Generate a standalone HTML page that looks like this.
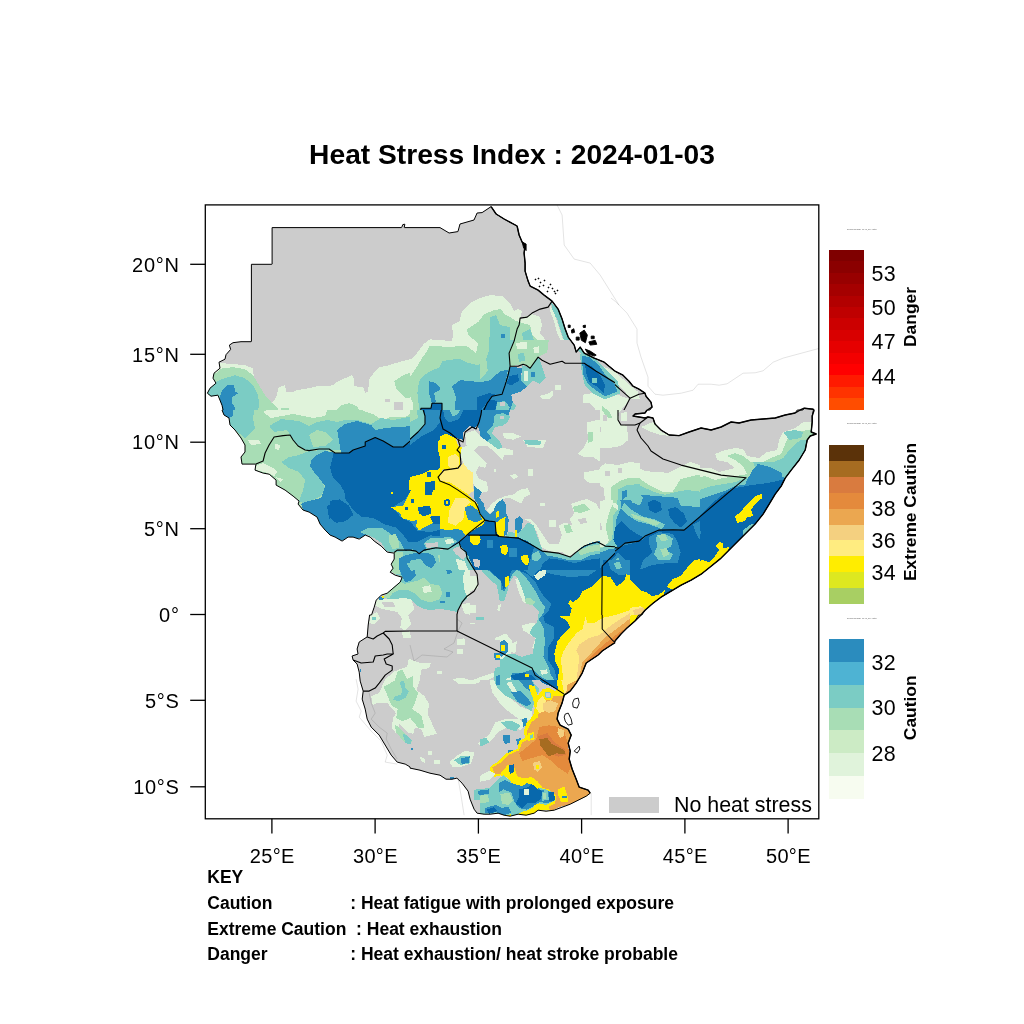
<!DOCTYPE html>
<html><head><meta charset="utf-8"><title>Heat Stress Index : 2024-01-03</title>
<style>html,body{margin:0;padding:0;background:#fff}svg{display:block}</style></head>
<body>
<svg width="1024" height="1024" viewBox="0 0 1024 1024" font-family='"Liberation Sans", sans-serif'>
<rect width="1024" height="1024" fill="#fff"/>
<defs><clipPath id="frame"><rect x="205" y="205" width="614" height="613"/></clipPath></defs>
<g clip-path="url(#frame)">
<defs><clipPath id="land"><path d="M207.4,393.2 L211.0,396.2 L217.8,395.2 L218.0,395.3 L222.0,405.2 L223.0,409.7 L222.8,410.0 L222.0,410.0 L224.0,415.0 L229.0,418.0 L230.0,425.0 L235.0,430.0 L241.0,438.0 L245.0,445.0 L245.0,452.0 L241.0,457.0 L242.0,464.1 L255.8,464.1 L255.9,464.4 L255.0,470.1 L263.1,473.1 L269.2,474.2 L276.1,480.1 L276.1,485.1 L285.1,490.1 L293.1,496.1 L299.0,501.0 L299.0,501.3 L298.1,504.1 L303.1,510.1 L309.1,512.1 L317.1,517.1 L320.1,524.1 L325.1,530.1 L330.1,535.1 L335.1,537.1 L342.1,541.1 L348.1,537.1 L353.1,537.1 L359.2,539.1 L365.1,535.2 L365.3,535.1 L370.2,537.1 L374.2,541.1 L381.2,546.1 L387.2,552.1 L393.9,553.1 L394.2,553.2 L394.2,559.1 L391.2,564.2 L393.1,568.2 L390.2,572.2 L395.2,575.2 L402.0,577.2 L402.1,577.5 L400.2,582.1 L387.2,593.2 L381.2,595.2 L376.2,600.2 L374.2,607.2 L371.6,614.8 L371.4,615.0 L369.6,615.0 L368.2,625.0 L367.2,636.9 L359.2,642.0 L357.1,649.0 L358.0,653.7 L358.0,654.0 L352.1,656.0 L353.1,660.0 L357.1,664.0 L359.2,672.1 L360.2,681.1 L363.2,691.1 L362.2,699.1 L365.2,709.1 L367.2,719.1 L371.2,727.1 L379.2,735.1 L391.2,755.1 L397.2,762.1 L405.2,764.1 L409.9,766.8 L410.0,767.0 L410.0,768.1 L420.0,770.2 L430.0,773.2 L440.0,775.2 L446.0,779.2 L452.0,779.2 L456.8,778.2 L457.1,778.3 L462.1,783.2 L468.1,791.2 L470.1,799.2 L474.1,809.2 L477.1,813.2 L484.1,814.2 L490.1,814.2 L498.1,813.2 L504.1,815.2 L510.1,816.2 L518.1,814.2 L526.1,815.2 L534.1,813.2 L538.1,810.2 L546.1,811.2 L554.1,810.2 L570.2,804.2 L586.2,796.2 L590.2,793.2 L588.2,790.2 L579.3,787.2 L579.2,787.1 L576.2,779.2 L572.2,769.2 L569.2,759.1 L570.2,751.1 L568.2,743.1 L571.2,735.1 L568.2,729.1 L560.1,725.1 L557.1,719.1 L558.1,713.1 L562.1,703.1 L564.2,695.1 L570.2,691.1 L576.2,683.1 L582.2,673.1 L586.2,663.0 L598.2,655.0 L602.2,651.0 L615.0,642.6 L615.1,640.9 L621.0,634.0 L627.0,628.0 L635.0,621.0 L638.6,615.1 L641.7,615.0 L645.0,610.2 L653.0,603.2 L661.0,597.2 L681.1,585.2 L691.1,580.2 L701.1,574.2 L721.1,558.1 L755.1,524.1 L763.1,514.1 L775.2,494.1 L781.2,486.1 L785.2,478.1 L791.2,470.1 L799.2,460.0 L805.2,450.0 L807.2,440.0 L810.2,436.0 L816.2,434.0 L811.4,432.1 L811.2,431.8 L812.2,422.0 L812.2,416.0 L813.4,410.2 L813.5,410.0 L813.2,409.2 L804.2,408.2 L802.9,410.0 L797.3,410.0 L795.1,413.0 L785.2,415.0 L775.2,418.0 L751.1,420.0 L739.1,423.0 L731.1,422.0 L721.1,427.0 L711.2,430.0 L701.1,428.0 L689.1,432.0 L679.1,435.6 L669.1,435.0 L661.0,430.0 L655.0,424.0 L653.0,418.0 L648.0,417.0 L645.0,418.0 L633.5,416.1 L633.3,415.8 L633.4,415.6 L635.0,414.0 L645.0,413.0 L647.0,410.1 L649.9,410.0 L652.0,407.2 L651.0,402.2 L646.0,396.2 L645.0,393.2 L639.0,389.2 L633.0,386.2 L629.0,381.2 L623.0,375.2 L615.1,371.3 L615.0,371.0 L604.2,362.2 L594.2,358.1 L584.2,353.1 L580.2,347.1 L576.5,351.7 L576.3,351.8 L576.1,351.6 L574.2,345.1 L568.2,337.1 L565.2,329.1 L562.1,319.1 L558.1,309.1 L552.1,301.1 L544.1,295.1 L538.1,290.1 L530.1,286.0 L528.1,281.1 L525.1,271.1 L525.1,263.1 L524.1,253.0 L525.1,245.0 L522.1,242.0 L519.1,235.0 L517.1,226.0 L504.1,219.0 L496.1,214.0 L491.1,206.6 L482.1,212.6 L477.1,213.0 L474.0,220.0 L460.0,224.0 L458.0,231.4 L457.9,231.6 L449.1,233.0 L440.0,227.6 L404.5,227.6 L404.3,227.5 L404.3,227.3 L404.8,224.2 L402.8,224.6 L401.7,227.4 L401.4,227.6 L272.1,227.6 L272.1,264.1 L271.8,264.3 L251.4,264.3 L251.4,341.5 L251.1,341.7 L241.0,341.7 L233.0,342.7 L229.4,345.1 L230.6,349.3 L230.5,349.6 L226.0,354.7 L225.0,359.2 L219.0,362.2 L220.0,368.2 L214.0,373.2 L213.0,378.2 L215.9,383.0 L215.9,383.3 L210.0,388.2Z"/></clipPath>
<clipPath id="t0"><rect x="205" y="205" width="205" height="205"/></clipPath>
<clipPath id="t1"><rect x="410" y="205" width="205" height="205"/></clipPath>
<clipPath id="t2"><rect x="615" y="205" width="205" height="205"/></clipPath>
<clipPath id="t3"><rect x="205" y="410" width="205" height="205"/></clipPath>
<clipPath id="t4"><rect x="410" y="410" width="205" height="205"/></clipPath>
<clipPath id="t5"><rect x="615" y="410" width="205" height="205"/></clipPath>
<clipPath id="t6"><rect x="205" y="615" width="205" height="205"/></clipPath>
<clipPath id="t7"><rect x="410" y="615" width="205" height="205"/></clipPath>
<clipPath id="t8"><rect x="615" y="615" width="205" height="205"/></clipPath>
<clipPath id="t9"><rect x="330" y="490" width="160" height="160"/></clipPath>
<clipPath id="t10"><rect x="540" y="440" width="160" height="160"/></clipPath>
<clipPath id="t11"><rect x="480" y="340" width="160" height="160"/></clipPath>
<clipPath id="t12"><rect x="470" y="560" width="160" height="160"/></clipPath>
<clipPath id="t13"><rect x="340" y="640" width="160" height="160"/></clipPath>
<clipPath id="t14"><rect x="480" y="680" width="160" height="160"/></clipPath>
<clipPath id="t15"><rect x="440" y="410" width="160" height="160"/></clipPath>
</defs>
<g clip-path="url(#land)" shape-rendering="crispEdges">
<rect x="200" y="200" width="630" height="630" fill="#cccccc"/>
<g clip-path="url(#t0)">
<polygon points="217,362.8 235,364.2 245,365.2 253,368.2 254,379.2 255,389.2 259.1,395.2 265.1,403.2 269.1,405.2 274.1,400.2 277.1,395.2 278.1,388.2 282.1,386.2 285.1,385.2 286.1,392.2 293.1,392.2 296.1,390.2 309.1,388.2 317.1,386.2 325.1,386.2 333.1,385.2 338.1,381.2 345.1,378.2 352.1,375.2 354.1,379.2 354.1,386.2 363.2,387.2 365.2,393.2 368.2,391.2 369.2,379.2 375.2,371.2 379.2,367.2 389.2,365.2 395.2,363.2 414,358.1 414,414 201,414 201,362.8" fill="#e0f3db"/>
<polygon points="394.2,402.2 403.2,402.2 403.2,414 394.2,414" fill="#cccccc"/>
<polygon points="385.2,399.2 390.2,399.2 390.2,402.2 385.2,402.2" fill="#cccccc"/>
<polygon points="201,375.2 216,373.2 222,368.2 233,367.2 245,369.2 253,375.2 259.1,385.2 265.1,395.2 271.1,402.2 277.1,407.2 281.1,414 201,414" fill="#a8ddb5"/>
<polygon points="333.1,414 341.1,405.2 349.1,403.2 357.1,406.2 361.2,414" fill="#a8ddb5"/>
<polygon points="281.1,408.2 289.1,408.2 289.1,414 281.1,414" fill="#a8ddb5"/>
<polygon points="394.2,381.2 403.2,375.2 414,371.2 414,398.2 405.2,398.2 400.2,393.2 396.2,389.2" fill="#a8ddb5"/>
<polygon points="201,386.2 211,386.2 217,381.2 225,378.2 235,375.2 245,378.2 253,385.2 258.1,395.2 259.1,405.2 257.1,414 201,414" fill="#7bccc4"/>
<polygon points="222,390.2 227,385.2 234,385.2 235,391.2 238,393.2 232,397.2 232,403.2 235,407.2 235,414 220,414 220,397.2" fill="#2b8cbe"/>
</g>
<g clip-path="url(#t1)">
<polygon points="406,359.6 410,359.6 414.4,356.5 423.8,343.9 430,339.3 452,341.1 453,335.1 452,325.1 460,321.1 461,313.1 470.1,303.1 480.1,298.1 490.1,295.1 502.1,296.1 510.1,303.1 514.1,311.1 518.1,309.1 522.1,311.1 520.1,319.1 532.1,314.1 540.1,317.1 542.1,325.1 540.1,333.1 548.1,343.1 548.1,355.1 538.1,357.1 530.1,368.2 510.1,366.2 508.1,375.2 505.1,385.2 502.1,394.2 492.1,396.2 487.1,403.2 482.1,414 406,414" fill="#e0f3db"/>
<polygon points="406,376.8 410,376.8 414.4,370.6 422.2,357.9 426.8,351.7 430,345.5 448.6,347.1 465.9,345.5 468.1,347.1 476.1,353.1 478.1,343.1 468.1,335.1 467.1,329.1 478.1,322.1 484.1,314.1 494.1,310.1 501.1,309.1 504.1,314.1 510.1,317.1 516.1,321.1 530.1,325.1 532.1,335.1 542.1,345.1 542.1,353.1 530.1,363.2 510.1,366.2 508.1,375.2 502.1,394.2 482.1,414 406,414" fill="#a8ddb5"/>
<polygon points="522.1,317.1 530.1,315.1 534.1,321.1 530.1,325.1 522.1,323.1" fill="#e0f3db"/>
<polygon points="514.1,343.1 522.1,341.1 526.1,349.1 518.1,351.1" fill="#e0f3db"/>
<polygon points="406,395.6 410,395.6 412.8,403.2 412.8,414 406,414" fill="#e0f3db"/>
<polygon points="417.4,414 419,408 417.4,392.4 419,381.4 423.8,375.2 431.6,370.6 439.4,367.4 442.4,361.2 451.8,359.6 459.6,358.8 467.5,362.8 478.1,365.2 486.1,357.1 488.1,345.1 490.1,333.1 490.1,317.1 496.1,315.1 500.1,325.1 510.1,327.1 510.1,341.1 506.1,353.1 508.1,365.2 510.1,366.2 508.1,375.2 502.1,394.2 482.1,414 417.4,414" fill="#7bccc4"/>
<polygon points="522.1,333.1 530.1,329.1 534.1,341.1 530.1,349.1 524.1,345.1" fill="#7bccc4"/>
<polygon points="514.1,353.1 522.1,351.1 524.1,361.2 518.1,365.2 512.1,363.2" fill="#7bccc4"/>
<polygon points="429,381.2 436,383.2 441,389.2 434,393.2 436,402.2 432,403.2 429,393.2" fill="#2b8cbe"/>
<polygon points="452,386.2 460,380.2 472.1,381.2 484.1,383.2 500.1,375.2 504.1,371.2 508.1,375.2 505.1,385.2 502.1,394.2 492.1,396.2 487.1,403.2 482.1,414 454,414 456,397.2" fill="#2b8cbe"/>
<polygon points="501.1,334.1 505.1,334.1 505.1,338.1 501.1,338.1" fill="#2b8cbe"/>
<polygon points="477.1,397.2 486.1,394.2 489.1,400.2 486.1,405.2 482.1,414 477.1,414" fill="#0868ac"/>
<polygon points="420,414 421,408.2 431,408.2 432,403.2 442,403.2 442,414" fill="#0868ac"/>
<polygon points="510.1,366.2 522.1,365.2 530.1,371.2 538.1,377.2 534.1,385.2 522.1,391.2 518.1,401.2 514.1,414 482.1,414 487.1,403.2 492.1,396.2 502.1,394.2 505.1,385.2 508.1,375.2" fill="#7bccc4"/>
<polygon points="522.1,365.2 530.1,368.2 538.1,359.2 542.1,371.2 546.1,379.2 538.1,385.2 530.1,379.2" fill="#e0f3db"/>
<polygon points="511.1,371.2 518.1,374.2 521.1,385.2 516.1,393.2 508.1,397.2 504.1,403.2 498.1,405.2 490.1,414 482.1,414 487.1,403.2 492.1,396.2 502.1,394.2 505.1,385.2 508.1,375.2" fill="#2b8cbe"/>
<polygon points="489.1,405.2 496.1,402.2 500.1,407.2 496.1,414 484.1,414" fill="#0868ac"/>
<polygon points="499.1,401.2 506.1,400.2 507.1,407.2 500.1,408.2" fill="#e0f3db"/>
<polygon points="530.1,372.2 535.1,372.2 535.1,377.2 530.1,377.2" fill="#2b8cbe"/>
<polygon points="538.1,393.2 550.1,393.2 550.1,401.2 538.1,401.2" fill="#e0f3db"/>
<polygon points="554.1,384.2 560.1,384.2 560.1,391.2 554.1,391.2" fill="#e0f3db"/>
<polygon points="551.1,303.1 558.1,309.1 562.1,319.1 565.2,329.1 568.2,337.1 576.2,347.1 570.2,346.1 564.2,341.1 560.1,329.1 557.1,319.1 553.1,313.1" fill="#7bccc4"/>
<polygon points="550.1,305.1 554.1,313.1 558.1,325.1 562.1,337.1 566.2,343.1 562.1,343.1 557.1,333.1 554.1,321.1 550.1,311.1" fill="#e0f3db"/>
<polygon points="580.2,357.1 619,375.2 619,414 586.2,414 584.2,397.2 590.2,391.2 584.2,381.2 581.2,369.2" fill="#e0f3db"/>
<polygon points="584.2,393.2 619,393.2 619,414 590.2,414" fill="#7bccc4"/>
<polygon points="582.2,357.1 590.2,357.1 602.2,365.2 619,377.2 619,397.2 602.2,395.2 592.2,387.2 586.2,377.2 583.2,365.2" fill="#2b8cbe"/>
<polygon points="585.2,363.2 594.2,365.2 602.2,375.2 608.2,385.2 602.2,393.2 594.2,385.2 587.2,375.2" fill="#0868ac"/>
<polygon points="590.2,377.2 595.2,377.2 595.2,383.2 590.2,383.2" fill="#7bccc4"/>
<polygon points="600.2,401.2 619,397.2 619,414 602.2,414" fill="#cccccc"/>
</g>
<g clip-path="url(#t2)">
<polygon points="611,371.2 623,375.2 629,381.2 633,386.2 639,393.2 630,398.2 622,414 611,414" fill="#e0f3db"/>
<polygon points="611,373.2 621,376.2 627,383.2 623,385.2 619,393.2 611,397.2" fill="#7bccc4"/>
<polygon points="611,390.2 618,390.2 618,394.2 611,394.2" fill="#2b8cbe"/>
</g>
<g clip-path="url(#t3)">
<polygon points="201,406 414,406 414,598.2 397.2,596.2 381.2,596.2 345.1,550.1 205,470.1" fill="#a8ddb5"/>
<polygon points="263.1,412 275.1,406 329.1,406 325.1,416 313.1,418 293.1,414 271.1,418" fill="#e0f3db"/>
<polygon points="361.2,406 361.2,410 373.6,414.4 383,420.6 389.2,417.4 404.8,417.4 414,411.2 414,406" fill="#e0f3db"/>
<polygon points="248,440 259.1,440 261.1,444 251,445" fill="#e0f3db"/>
<polygon points="255,466.1 263.1,463.1 273.1,468.1 277.1,472.1 274.1,476.1 265.1,472.1 256,470.1" fill="#e0f3db"/>
<polygon points="275.1,444 280.1,445 279.1,450 275.1,449" fill="#e0f3db"/>
<polygon points="275.1,477.1 283.1,479.1 281.1,482.1" fill="#e0f3db"/>
<polygon points="222,406 255,406 253,418 255,428 249,434 245,438 235,430 230,425 229,418 224,415" fill="#7bccc4"/>
<polygon points="269.1,426 281.1,419 289.1,420 299.1,421 309.1,426 317.1,422 327.1,420 337.1,422 345.1,420 357.1,420 371.2,424 381.2,418 393.2,420 414,416 414,450 305.1,450 298.1,446 293.1,440 290.1,435 287.1,430 274.1,432" fill="#7bccc4"/>
<polygon points="309.1,435 317.1,430 325.1,432 333.1,440 325.1,446 313.1,447" fill="#a8ddb5"/>
<polygon points="281.1,462.1 289.1,457 299.1,455 309.1,451 325.1,450 333.1,453 317.1,456 311.1,462.1 313.1,470.1 321.1,480.1 325.1,488.1 321.1,496.1 313.1,500.1 305.1,504.1 299.1,501.1 303.1,490.1 305.1,480.1 299.1,472.1 289.1,468.1" fill="#7bccc4"/>
<polygon points="222,406 233,406 233,416 229,418 224,415" fill="#2b8cbe"/>
<polygon points="337.1,430 345.1,424 357.1,421 371.2,425 375.2,430 385.2,428 397.2,427 414,426 414,440 403.2,447 393.2,447 383.2,441 375.2,437.6 365.2,442 365.2,446 353.1,450 349.1,453 341.1,453 339.1,442" fill="#2b8cbe"/>
<polygon points="311.1,460 317.1,455 325.1,451 335.1,453 414,450 414,548.1 405.2,542.1 401.2,536.1 393.2,532.1 385.2,528.1 375.2,526.1 365.2,528.1 360.2,532.1 359.2,539.1 353.1,537.1 348.1,537.1 342.1,541.1 335.1,537.1 330.1,535.1 325.1,530.1 320.1,524.1 317.1,517.1 309.1,512.1 303.1,510.1 301.1,504.1 305.1,502.1 313.1,500.1 321.1,498.1 323.1,492.1 325.1,486.1 319.1,478.1 314.1,472.1 310.1,466.1" fill="#2b8cbe"/>
<polygon points="333.1,453 349.1,453 353.1,450 365.2,446 365.2,442 375.2,437.6 383.2,441 393.2,447 403.2,447 414,440 414,548.1 405.2,542.1 403.2,534.1 393.2,526.1 385.2,521.1 375.2,518.1 365.2,512.1 355.1,508.1 353.1,502.1 345.1,494.1 341.1,486.1 333.1,478.1 330.1,468.1 333.1,456" fill="#0868ac"/>
<polygon points="327.1,506.1 333.1,503.1 341.1,508.1 349.1,514.1 355.1,519.1 353.1,524.1 343.1,522.1 335.1,525.1 329.1,518.1" fill="#0868ac"/>
<polygon points="390.8,491.7 392.8,491.7 392.8,493.7 390.8,493.7" fill="#ffed00"/>
<polygon points="391.2,508.1 397.2,507.1 403.2,504.1 405.2,498.1 409.2,494.1 409.2,480.1 414,480.1 414,522.1 403.2,521.1 400.2,516.1 395.2,512.1" fill="#ffed00"/>
<polygon points="402.2,506.1 405.2,506.1 405.2,509.1 402.2,509.1" fill="#0868ac"/>
<polygon points="360.2,532.1 365.2,528.1 375.2,526.1 385.2,528.1 393.2,532.1 401.2,536.1 405.2,542.1 414,548.1 414,550.1 397.2,550.1 394.2,552.5 387.2,552.1 381.2,546.1 374.2,541.1 370.2,537.1 365.2,535.1 359.2,539.1" fill="#7bccc4"/>
<polygon points="373.2,530.1 385.2,530.1 393.2,538.1 391.2,548.1 381.2,544.1" fill="#a8ddb5"/>
<polygon points="394.2,553.1 414,550.1 414,598.2 397.2,596.2 385.2,595.2 393.2,588.2 400.2,582.2 402.2,577.2 395.2,575.2 390.2,572.2 393.2,568.2 391.2,564.2 394.2,559.1" fill="#a8ddb5"/>
<polygon points="397.2,558.1 414,554.1 414,582.2 403.2,580.2 398.2,570.2" fill="#7bccc4"/>
<polygon points="402.2,562.1 414,559.1 414,577.2 405.2,575.2" fill="#2b8cbe"/>
<polygon points="406.2,565.2 411.2,565.2 411.2,570.2 406.2,570.2" fill="#7bccc4"/>
<polygon points="391.2,590.2 414,586.2 414,600.2 395.2,600.2 385.2,596.2" fill="#e0f3db"/>
<polygon points="375.2,602.2 385.2,597.2 397.2,600.2 414,599.2 414,619 365.2,619" fill="#cccccc"/>
<polygon points="381.2,608.2 389.2,606.2 397.2,610.2 385.2,612.2" fill="#e0f3db"/>
<polygon points="380.8,596.2 383.6,596.2 383.6,599.2 380.8,599.2" fill="#2b8cbe"/>
</g>
<g clip-path="url(#t4)">
<polygon points="590.2,422 598.2,406 619,406 619,456 606.2,462.1 602.2,470.1 619,466.1 619,494.1 602.2,498.1 590.2,504.1 580.2,504.1 574.2,510.1 576.2,518.1 566.2,524.1 562.1,530.1 570.2,538.1 580.2,540.1 590.2,542.1 597.2,541.7 584.2,546.1 576.2,552.1 570.2,557.1 558.1,553.1 546.1,548.1 540.1,538.1 538.1,526.1 550.1,522.1 558.1,528.1 568.2,522.1 572.2,512.1 570.2,506.1 582.2,500.1 590.2,498.1 600.2,490.1 596.2,482.1 586.2,478.1 584.2,472.1 594.2,470.1 602.2,462.1 600.2,454 590.2,456 580.2,460 578.2,456 586.2,448 590.2,436" fill="#e0f3db"/>
<polygon points="596.2,428 600.2,428 600.2,432 596.2,432" fill="#cccccc"/>
<polygon points="602.2,434 606.2,434 606.2,438 602.2,438" fill="#cccccc"/>
<polygon points="595.2,440 599.2,440 599.2,444 595.2,444" fill="#cccccc"/>
<polygon points="602.2,472.1 606.2,472.1 606.2,476.1 602.2,476.1" fill="#cccccc"/>
<polygon points="608.2,480.1 612.2,480.1 612.2,484.1 608.2,484.1" fill="#cccccc"/>
<polygon points="582.2,450 590.2,448 588.2,456 582.2,458" fill="#a8ddb5"/>
<polygon points="526.1,440 534.1,439 542.1,441 542.1,445 530.1,445" fill="#e0f3db"/>
<polygon points="527.1,469.1 532.1,469.1 532.1,475.1 527.1,475.1" fill="#e0f3db"/>
<polygon points="511.1,476.1 516.1,475.1 518.1,479.1 512.1,480.1" fill="#e0f3db"/>
<polygon points="550.1,520.1 555.1,520.1 555.1,526.1 550.1,526.1" fill="#e0f3db"/>
<polygon points="522.1,490.1 530.1,488.1 532.1,496.1 524.1,498.1" fill="#e0f3db"/>
<polygon points="508.1,496.1 518.1,494.1 519.1,502.1 510.1,504.1" fill="#e0f3db"/>
<polygon points="598.2,514.1 606.2,508.1 619,506.1 619,550.1 605.2,546.1 597.2,541.7 590.2,538.1 586.2,530.1 590.2,522.1" fill="#7bccc4"/>
<polygon points="590.2,522.1 598.2,518.1 602.2,526.1 598.2,534.1 592.2,530.1" fill="#e0f3db"/>
<polygon points="610.2,530.1 619,526.1 619,547.1 608.2,544.1" fill="#2b8cbe"/>
<polygon points="406,406 482.1,406 479.1,422 472.1,427 465.1,432 463.1,442 460,453 461,464.1 472.1,470.1 474.1,494.1 479.1,510.1 485.1,520.1 470.1,532.1 459,542.1 448,549.1 436,547.7 424,550.1 419,553.7 406,550.1" fill="#0868ac"/>
<polygon points="406,406 422,406 425,416 425,424 418,432 406,441" fill="#7bccc4"/>
<polygon points="406,406 416,406 418,418 410,422 406,422" fill="#a8ddb5"/>
<polygon points="425,406 442,406 440,422 434,430 422,436 406,448 406,441 418,432 425,424" fill="#2b8cbe"/>
<polygon points="442,406 462.1,406 458,418 450,424 443,422" fill="#2b8cbe"/>
<polygon points="480.1,406 510.1,406 504.1,416 490.1,420 482.1,429 476.1,429 479.1,422" fill="#2b8cbe"/>
<polygon points="406,530.1 422,528.1 440,530.1 454,532.1 464.1,534.1 459,542.1 448,549.1 436,547.7 424,550.1 419,553.7 406,550.1" fill="#2b8cbe"/>
<polygon points="424,540.1 446,538.1 456,540.1 448,548.1 436,547.1 424,549.1" fill="#7bccc4"/>
<polygon points="426,544.1 436,542.1 438,546.1 428,548.1" fill="#cccccc"/>
<polygon points="438,442 442,436 447,433 453,437 458,440 460,453 461,464.1 467.1,470.1 473.1,474.1 473.1,494.1 476.1,503.1 468.1,504.1 467.1,514.1 464.1,522.1 468.1,528.1 480.1,527.1 480.1,538.1 474.1,543.1 470.1,542.1 470.1,532.1 464.1,530.1 456,528.1 442,528.1 440,522.1 432,522.1 430,528.1 422,526.1 418,530.1 415,526.1 406,522.1 406,478.1 422,474.1 430,470.1 437,470.1 440,468.1 444,463.1 440,458 438,450" fill="#ffed00"/>
<polygon points="425,482.1 435,481.1 435,490.1 430,496.1 425,494.1" fill="#0868ac"/>
<polygon points="418,508.1 430,506.1 431,514.1 422,518.1 418,514.1" fill="#0868ac"/>
<polygon points="430,516.1 440,514.1 442,522.1 432,522.1" fill="#0868ac"/>
<polygon points="444.4,499.7 449,499.1 449,504.5 444.4,504.5" fill="#0868ac"/>
<polygon points="445.8,501.1 447.6,501.1 447.6,503.1 445.8,503.1" fill="#ffed00"/>
<polygon points="442,444 447,443 447,449 442,449" fill="#0868ac"/>
<polygon points="427,472.1 431,472.1 431,477.1 427,477.1" fill="#0868ac"/>
<polygon points="447,455 457,453 459,464.1 450,468.1 446,462.1" fill="#ffec80"/>
<polygon points="461,466.1 470.1,470.1 473.1,476.1 473.1,490.1 468.1,496.1 460,490.1 457,484.1 450,485.1 442,480.1 444,470.1 458,468.1" fill="#ffec80"/>
<polygon points="449,504.1 464.1,498.1 468.1,504.1 467.1,514.1 464.1,522.1 450,522.1 449,514.1" fill="#ffec80"/>
<polygon points="470.1,535.1 480.1,535.1 480.1,543.1 470.1,543.1" fill="#ffed00"/>
<polygon points="464.1,432 490.1,422 510.1,418 514.1,424 504.1,428 494.1,432 498.1,442 506.1,448 514.1,450 512.1,456 502.1,456 494.1,450 486.1,440 474.1,440 468.1,446 470.1,458 476.1,462.1 484.1,464.1 488.1,470.1 480.1,474.1 476.1,482.1 480.1,490.1 486.1,494.1 484.1,500.1 479.1,510.1 474.1,494.1 472.1,470.1 461,464.1 460,453 463.1,442" fill="#e0f3db"/>
<polygon points="476.1,429 490.1,420 504.1,416 510.1,420 498.1,425 490.1,430 488.1,436 496.1,443 500.1,450 494.1,448 486.1,438 476.1,437 470.1,438 466.1,436" fill="#7bccc4"/>
<polygon points="474.1,476.1 480.1,478.1 482.1,490.1 478.1,498.1 474.1,494.1" fill="#2b8cbe"/>
<polygon points="466.1,506.1 476.1,503.1 479.1,510.1 485.1,520.1 478.1,522.1 470.1,518.1" fill="#2b8cbe"/>
<polygon points="489.1,516.1 494.1,508.1 500.1,500.1 506.1,502.1 506.1,514.1 504.1,522.1 496.1,522.1 489.1,521.1" fill="#2b8cbe"/>
<polygon points="498.1,504.1 504.1,504.1 504.1,510.1 499.1,510.1" fill="#0868ac"/>
<polygon points="496.1,512.1 499.1,511.1 499.1,518.1 496.1,518.1" fill="#ffed00"/>
<polygon points="498.1,522.1 502.1,518.1 506.1,517.1 506.1,536.1 499.1,536.5 496.1,530.1" fill="#ffed00"/>
<polygon points="516.1,522.1 520.1,517.1 522.1,522.1 521.1,530.1 517.1,532.1" fill="#2b8cbe"/>
<polygon points="514.5,530.1 516.5,530.1 516.5,536.1 514.5,536.1" fill="#ffed00"/>
<polygon points="506.1,522.1 514.1,522.1 522.1,530.1 530.1,522.1 538.1,526.1 540.1,538.1 546.1,548.1 558.1,553.1 542.1,551.1 530.1,544.1 518.1,538.1 506.1,536.5" fill="#7bccc4"/>
<polygon points="459,542.1 470.1,532.1 485.1,520.1 495.1,521.7 496.1,534.1 499.1,536.5 518.1,538.1 530.1,544.1 542.1,551.1 558.1,553.1 570.2,557.1 576.2,562.1 590.2,568.2 600.2,568.2 619,554.1 619,619 548.1,619 546.1,602.2 538.1,590.2 530.1,580.2 522.1,570.2 514.1,566.2 510.1,576.2 506.1,590.2 502.1,592.2 494.1,584.2 486.1,580.2 480.1,568.2 470.1,558.1 467.1,552.1 461,548.1" fill="#0868ac"/>
<polygon points="518.1,538.1 530.1,544.1 542.1,551.1 558.1,553.1 570.2,557.1 576.2,552.1 584.2,546.1 597.2,541.7 605.2,546.1 619,547.1 619,562.1 602.2,568.2 590.2,570.2 580.2,568.2 574.2,576.2 562.1,576.2 550.1,570.2 540.1,568.2 534.1,580.2 526.1,576.2 530.1,562.1 526.1,550.1" fill="#2b8cbe"/>
<polygon points="550.1,558.1 570.2,559.1 580.2,562.1 574.2,566.2 554.1,564.2" fill="#7bccc4"/>
<polygon points="534.1,574.2 542.1,568.2 548.1,570.2 540.1,578.2 535.1,580.2" fill="#e0f3db"/>
<polygon points="558.1,553.1 570.2,557.1 576.2,552.1 584.2,546.1 597.2,541.7 590.2,550.1 580.2,556.1 570.2,560.1" fill="#a8ddb5"/>
<polygon points="501.1,546.1 507.1,545.1 507.1,550.1 505.1,554.1 501.7,553.1" fill="#ffed00"/>
<polygon points="521.1,556.1 528.1,555.1 529.1,564.2 525.1,565.2 521.1,560.1" fill="#ffed00"/>
<polygon points="504.1,584.2 507.1,576.2 510.1,576.2 509.1,584.2 506.1,588.2" fill="#ffec80"/>
<polygon points="568.2,600.2 576.2,599.2 580.2,592.2 586.2,589.2 594.2,582.2 598.2,580.2 619,580.2 619,619 570.2,619" fill="#ffed00"/>
<polygon points="487.1,540.1 492.1,540.1 492.1,548.1 487.1,548.1" fill="#2b8cbe"/>
<polygon points="510.1,548.1 516.1,548.1 516.1,558.1 510.1,558.1" fill="#2b8cbe"/>
<polygon points="480.1,580.2 490.1,586.2 498.1,590.2 504.1,592.2 510.1,580.2 514.1,570.2 522.1,576.2 530.1,586.2 538.1,596.2 544.1,619 458,619 462.1,602.2 474.1,591.2 478.1,584.2" fill="#cccccc"/>
<polygon points="486.1,580.2 494.1,584.2 502.1,592.2 506.1,590.2 504.1,602.2 498.1,610.2 494.1,598.2 490.1,590.2" fill="#7bccc4"/>
<polygon points="514.1,568.2 522.1,572.2 530.1,582.2 540.1,594.2 548.1,610.2 548.1,619 540.1,619 534.1,602.2 526.1,590.2 518.1,580.2" fill="#7bccc4"/>
<polygon points="522.1,590.2 530.1,596.2 534.1,608.2 528.1,608.2 524.1,600.2" fill="#e0f3db"/>
<polygon points="494.1,600.2 498.1,610.2 496.1,619 492.1,610.2" fill="#e0f3db"/>
<polygon points="406,550.1 419,553.7 424,550.1 436,547.7 448,549.1 459,542.1 461,548.1 466.1,552.1 467.1,558.1 472.1,566.2 477.1,574.2 478.1,584.2 474.1,591.2 467.1,596.2 462.1,602.2 458,610.2 456,619 406,619" fill="#7bccc4"/>
<polygon points="406,554.1 419,555.1 430,556.1 436,562.1 432,568.2 422,570.2 406,568.2" fill="#2b8cbe"/>
<polygon points="446,550.1 459,543.1 464.1,550.1 460,554.1 450,553.1" fill="#2b8cbe"/>
<polygon points="452,550.1 460,546.1 465.1,554.1 467.1,562.1 464.1,566.2 458,558.1" fill="#cccccc"/>
<polygon points="406,574.2 422,572.2 440,576.2 450,582.2 458,590.2 462.1,602.2 458,619 430,619 422,608.2 410,590.2" fill="#a8ddb5"/>
<polygon points="454,566.2 468.1,564.2 474.1,574.2 476.1,584.2 470.1,590.2 462.1,586.2 460,576.2" fill="#e0f3db"/>
<polygon points="422,586.2 436,584.2 440,592.2 428,596.2 420,592.2" fill="#e0f3db"/>
<polygon points="406,600.2 418,598.2 422,606.2 416,619 406,619" fill="#e0f3db"/>
<polygon points="422,619 430,611.2 450,610.2 457,619" fill="#cccccc"/>
<polygon points="446,592.2 449,592.2 449,596.2 446,596.2" fill="#2b8cbe"/>
</g>
<g clip-path="url(#t5)">
<polygon points="611,430 623,434 627,442 623,446 611,444" fill="#e0f3db"/>
<polygon points="619,406 627,414 627,424 621,425 618,420" fill="#e0f3db"/>
<polygon points="620,412 625,415 625,422 621,422" fill="#a8ddb5"/>
<polygon points="641,427 653,422 661,432 671.1,436 661,435 651,432" fill="#e0f3db"/>
<polygon points="611,462.1 623,461 631,464.1 637,468.1 645,470.1 655,468.1 667.1,470.1 673.1,474.1 677.1,468.1 685.1,466.1 691.1,462.1 701.1,468.1 711.1,468.1 719.1,472.1 727.1,470.1 735.1,468.1 727.1,462.1 717.1,460 715.1,454 725.1,450 735.1,448 743.1,449 747.1,456 759.1,458 767.1,452 777.2,450 779.2,440 783.2,432 795.2,428 803.2,422 809.2,422 824,422 824,619 611,619" fill="#e0f3db"/>
<polygon points="611,476.1 627,478.1 637,476.1 643,480.1 655,484.1 667.1,480.1 675.1,486.1 683.1,480.1 695.1,478.1 705.1,476.1 715.1,480.1 723.1,478.1 735.1,476.1 747.1,474.1 743.1,466.1 735.1,460 727.1,456 735.1,453 743.1,456 751.1,462.1 759.1,464.1 771.2,458 781.2,454 785.2,444 789.2,436 799.2,432 807.2,430 824,430 824,619 611,619" fill="#a8ddb5"/>
<polygon points="643,470.1 655,476.1 667.1,486.1 675.1,494.1 671.1,496.1 661,488.1 649,480.1" fill="#e0f3db"/>
<polygon points="611,490.1 623,488.1 631,494.1 641,492.1 651,498.1 667.1,494.1 679.1,498.1 689.1,494.1 699.1,490.1 711.1,486.1 723.1,484.1 735.1,482.1 746.1,478.1 755.1,476.1 763.1,476.1 755.1,468.1 753.1,462.1 763.1,462.1 773.2,462.1 783.2,458 789.2,450 795.2,444 801.2,440 824,440 824,619 611,619" fill="#7bccc4"/>
<polygon points="783.2,432 795.2,430 803.2,432 801.2,438 789.2,440" fill="#7bccc4"/>
<polygon points="627,488.1 635,490.1 637,496.1 629,498.1" fill="#a8ddb5"/>
<polygon points="611,498.1 621,496.1 629,500.1 637,496.1 645,496.1 655,504.1 667.1,498.1 679.1,504.1 691.1,502.1 703.1,498.1 715.1,494.1 727.1,490.1 735.1,486.1 747.1,484.1 759.1,482.1 771.2,480.1 779.2,476.1 773.2,470.1 763.1,466.1 757.1,467.1 761.1,472.1 775.2,472.1 785.2,478.1 824,478.1 824,619 611,619" fill="#2b8cbe"/>
<polygon points="611,506.1 627,510.1 639,518.1 645,526.1 639,528.1 627,520.1 611,514.1" fill="#a8ddb5"/>
<polygon points="615,510.1 627,514.1 637,524.1 627,519.1 615,513.1" fill="#e0f3db"/>
<polygon points="611,518.1 627,524.1 637,530.1 627,530.1 611,526.1" fill="#7bccc4"/>
<polygon points="745.5,482.7 752.5,470.3 757.7,464.1 770.2,466.9 780.6,472.1 786,477.3 782.4,482.7 770.2,487.9 748.9,491.5" fill="#2b8cbe"/>
<polygon points="723.1,494.1 735.1,488.1 751.1,485.1 767.1,483.1 781.2,480.1 824,480.1 824,619 611,619 611,550.1 619,548.1 625,544.1 639,541.1 645,536.1 659,530.1 673.1,529.7 684.1,530.1 695.1,522.1 701.1,514.1 711.1,504.1" fill="#0868ac"/>
<polygon points="647,502.1 655,500.1 661,508.1 671.1,514.1 683.1,522.1 684.1,530.1 673.1,529.7 663,522.1 655,514.1 649,510.1" fill="#0868ac"/>
<polygon points="669.1,508.1 681.1,506.1 691.1,514.1 695.1,522.1 684.1,530.1 683.1,520.1 675.1,514.1" fill="#0868ac"/>
<polygon points="611,522.1 621,528.1 627,538.1 625,544.1 611,550.1" fill="#0868ac"/>
<polygon points="645,538.1 655,532.1 671.1,530.1 679.1,538.1 681.1,550.1 675.1,562.1 661,564.2 649,568.2 641,562.1 643,550.1" fill="#2b8cbe"/>
<polygon points="651,540.1 659,534.1 669.1,534.1 675.1,542.1 673.1,554.1 665,560.1 655,558.1 653,550.1" fill="#7bccc4"/>
<polygon points="657,538.1 665,536.1 669.1,542.1 663,546.1 658,544.1" fill="#a8ddb5"/>
<polygon points="660,550.1 667.1,548.1 670.1,554.1 665,558.1 660,556.1" fill="#a8ddb5"/>
<polygon points="611,550.1 625,554.1 631,568.2 623,572.2 611,574.2" fill="#2b8cbe"/>
<polygon points="611,554.1 621,558.1 625,566.2 621,570.2 611,572.2" fill="#7bccc4"/>
<polygon points="691.1,526.1 699.1,524.1 701.1,534.1 695.1,538.1 692.1,532.1" fill="#2b8cbe"/>
<polygon points="743.1,530.1 751.1,524.1 755.1,524.1 747.1,532.1 743.1,536.1" fill="#7bccc4"/>
<polygon points="807.2,440 805.2,450 799.2,460 791.2,470.1 785.2,478.1 781.2,476.1 789.2,466.1 795.2,456 801.2,446" fill="#7bccc4"/>
<polygon points="735.1,516.1 741.1,512.1 745.1,506.1 751.1,500.1 757.1,495.1 762.1,494.1 762.1,498.1 755.1,504.1 751.1,510.1 753.1,516.1 747.1,517.1 745.1,521.1 737.1,523.1" fill="#ffed00"/>
<polygon points="715.1,546.1 719.1,542.1 723.1,543.1 723.1,548.1 729.1,547.1 727.1,552.1 721.1,558.1 711.1,566.2 701.1,574.2 691.1,580.2 681.1,585.2 671.1,591.2 667.1,587.2 673.1,581.2 683.1,576.2 691.1,568.2 695.1,562.1 703.1,560.1 709.1,562.1 715.1,556.1 719.1,550.1" fill="#ffed00"/>
<polygon points="611,586.2 625,580.2 628,575.2 633,582.2 641,588.2 647,596.2 657,596.2 663,590.2 664,595.2 653,603.2 645,610.2 641,619 611,619" fill="#ffed00"/>
<polygon points="611,610.2 627,608.2 641,606.2 645,610.2 641,619 611,619" fill="#ffec80"/>
<polygon points="633,610.2 643,607.2 645,610.2 641,619 635,619" fill="#f4d080"/>
</g>
<g clip-path="url(#t6)">
<polygon points="381.2,681.1 387.2,677.1 393.2,671.1 414,669.1 414,749.1 405.2,743.1 401.2,735.1 395.2,731.1 391.2,725.1 393.2,719.1 397.2,715.1 395.2,709.1 387.2,705.1 381.2,701.1 375.2,705.1 371.2,701.1 375.2,695.1 381.2,693.1" fill="#e0f3db"/>
<polygon points="383.2,687.1 391.2,683.1 397.2,675.1 414,673.1 414,745.1 405.2,739.1 401.2,733.1 403.2,727.1 397.2,723.1 397.2,715.1 396.2,707.1 389.2,703.1 385.2,695.1" fill="#a8ddb5"/>
<polygon points="393.2,697.1 400.2,695.1 401.2,687.1 405.2,681.1 405.2,689.1 407.2,695.1 401.2,699.1 395.2,701.1" fill="#7bccc4"/>
<polygon points="405.2,735.1 414,737.1 414,745.1 406.2,743.1" fill="#7bccc4"/>
<polygon points="397.2,713.1 414,721.1 414,735.1 405.2,733.1 399.2,723.1" fill="#cccccc"/>
<polygon points="401.2,619 414,617 414,629 403.2,629" fill="#e0f3db"/>
<polygon points="400.2,633 414,633 414,639 403.2,638" fill="#e0f3db"/>
<polygon points="373.2,615 377.2,617 375.2,621 372.2,620" fill="#7bccc4"/>
<polygon points="387.2,641 391.2,645 390.2,651 387.2,649" fill="#e0f3db"/>
<polygon points="359.6,669.1 361.2,669.1 361.2,672.1 359.6,672.1" fill="#2b8cbe"/>
<polygon points="369.2,701.1 373.2,703.1 375.2,711.1 371.2,709.1" fill="#e0f3db"/>
</g>
<g clip-path="url(#t7)">
<polygon points="406,665 418,663 420,675.1 416,685.1 422,695.1 426,709.1 432,723.1 436,733.1 430,735.1 422,727.1 414,719.1 406,723.1" fill="#e0f3db"/>
<polygon points="406,691.1 416,695.1 422,711.1 418,715.1 406,711.1" fill="#a8ddb5"/>
<polygon points="452,681.1 462.1,678.1 482.1,679.1 490.1,673.1 494.1,675.1 486.1,681.1 470.1,684.1 456,685.1" fill="#e0f3db"/>
<polygon points="458,641 464.1,640 464.1,645 458,645" fill="#e0f3db"/>
<polygon points="456,651 462.1,650 462.1,654 456,654" fill="#e0f3db"/>
<polygon points="468.1,621 480.1,617 482.1,621 470.1,625" fill="#e0f3db"/>
<polygon points="420,755.1 424,755.1 424,763.1 420,763.1" fill="#e0f3db"/>
<polygon points="434,759.1 442,759.1 442,765.1 434,765.1" fill="#e0f3db"/>
<polygon points="452,761.1 458,756.1 468.1,753.1 472.1,755.1 470.1,763.1 462.1,767.1 454,766.1" fill="#7bccc4"/>
<polygon points="460,758.1 468.1,756.1 469.1,762.1 461,764.1" fill="#2b8cbe"/>
<polygon points="480.1,743.1 486.1,739.1 490.1,740.1 489.1,745.1 482.1,747.1" fill="#7bccc4"/>
<polygon points="490.1,735.1 498.1,731.1 506.1,727.1 510.1,731.1 502.1,735.1 494.1,739.1" fill="#e0f3db"/>
<polygon points="530.1,611 528.1,623 520.1,627 522.1,635 530.1,643 518.1,649 510.1,655 514.1,665 522.1,669.1 532.1,668.1 550.1,681.1 564.2,694.1 619,643 619,611" fill="#e0f3db"/>
<polygon points="538.1,611 532.1,623 524.1,627 530.1,635 538.1,639 530.1,647 522.1,653 530.1,661 538.1,667.1 550.1,681.1 558.1,691.1 564.2,694.1 619,643 619,611" fill="#7bccc4"/>
<polygon points="540.1,611 538.1,625 542.1,633 548.1,641 546.1,649 550.1,655 550.1,665 558.1,681.1 619,643 619,611" fill="#2b8cbe"/>
<polygon points="546.1,611 548.1,627 552.1,637 553.1,649 556.1,661 559.1,673.1 559.1,683.1 564.2,694.1 619,643 619,611" fill="#0868ac"/>
<polygon points="540.1,671.1 548.1,669.1 550.1,675.1 544.1,677.1" fill="#7bccc4"/>
<polygon points="570.2,611 568.2,625 562.1,635 558.1,645 555.1,655 558.1,665 560.1,675.1 558.1,685.1 564.2,694.1 619,643 619,611" fill="#ffed00"/>
<polygon points="584.2,611 578.2,627 572.2,637 566.2,649 564.2,661 568.2,671.1 566.2,681.1 564.2,689.1 565.2,694.1 619,643 619,611" fill="#ffec80"/>
<polygon points="602.2,629 594.2,633 588.2,641 580.2,647 576.2,655 578.2,663 574.2,673.1 570.2,683.1 567.2,692.1 570.2,691.1 619,643 613.2,641" fill="#f4d080"/>
<polygon points="613.2,641 602.2,645 594.2,653 586.2,663 582.2,673.1 584.2,665 590.2,657 600.2,650 610.2,645 619,643" fill="#eba750"/>
<polygon points="496.1,655 498.1,641 506.1,633 510.1,639 510.1,649 504.1,659 498.1,659" fill="#e0f3db"/>
<polygon points="500.1,643 506.1,640 508.1,647 503.1,652 500.1,650" fill="#2b8cbe"/>
<polygon points="500.1,645 505.1,645 505.1,650 500.1,650" fill="#ffed00"/>
<polygon points="496.1,654 501.1,653 501.1,657 496.1,658" fill="#ffed00"/>
<polygon points="494.1,679.1 500.1,671.1 510.1,673.1 522.1,669.1 532.1,668.1 535.1,675.1 550.1,685.1 558.1,691.1 554.1,695.1 548.1,699.1 538.1,695.1 534.1,703.1 530.1,709.1 522.1,701.1 510.1,699.1 500.1,693.1 496.1,685.1" fill="#7bccc4"/>
<polygon points="510.1,675.1 522.1,671.1 532.1,673.1 538.1,679.1 550.1,685.1 548.1,693.1 538.1,689.1 532.1,695.1 534.1,703.1 526.1,701.1 518.1,695.1 512.1,699.1 514.1,691.1 522.1,687.1 518.1,681.1" fill="#2b8cbe"/>
<polygon points="514.1,675.1 524.1,673.1 530.1,677.1 528.1,683.1 520.1,682.1" fill="#0868ac"/>
<polygon points="525.1,674.1 529.1,674.1 529.1,677.1 525.1,677.1" fill="#ffed00"/>
<polygon points="528.1,685.1 534.1,685.1 538.1,695.1 540.1,703.1 550.1,701.1 558.1,691.1 564.2,694.1 562.1,703.1 558.1,713.1 550.1,709.1 542.1,713.1 534.1,711.1 532.1,701.1 530.1,693.1" fill="#ffed00"/>
<polygon points="541.1,689.1 550.1,687.1 554.1,693.1 552.1,699.1 544.1,699.1" fill="#f4d080"/>
<polygon points="544.1,692.1 549.1,692.1 549.1,697.1 544.1,697.1" fill="#cccccc"/>
<polygon points="502.1,721.1 510.1,719.1 522.1,723.1 526.1,731.1 522.1,735.1 514.1,729.1 506.1,727.1" fill="#7bccc4"/>
<polygon points="504.1,735.1 510.1,733.1 510.1,743.1 504.1,743.1" fill="#2b8cbe"/>
<polygon points="536.1,695.1 550.1,701.1 558.1,691.1 564.2,694.1 590.2,793.2 548.1,813.2 522.1,815.2 518.1,785.2 506.1,781.2 496.1,779.2 489.1,773.2 492.1,765.1 502.1,758.1 508.1,751.1 518.1,749.1 518.1,743.1 522.1,735.1 526.1,725.1 529.1,719.1 532.1,711.1" fill="#ffed00"/>
<polygon points="538.1,697.1 550.1,701.1 558.1,691.1 564.2,694.1 562.1,703.1 558.1,713.1 557.1,719.1 560.1,725.1 568.2,729.1 571.2,735.1 568.2,743.1 570.2,751.1 569.2,759.1 572.2,769.2 576.2,779.2 579.2,787.2 588.2,790.2 590.2,793.2 586.2,796.2 578.2,800.2 570.2,804.2 562.1,807.2 554.1,810.2 548.1,810.2 550.1,803.2 558.1,799.2 566.2,795.2 562.1,789.2 554.1,791.2 546.1,789.2 538.1,783.2 532.1,779.2 524.1,785.2 518.1,783.2 510.1,777.2 508.1,773.2 498.1,777.2 492.1,773.2 494.1,765.1 502.1,759.1 508.1,753.1 518.1,751.1 520.1,743.1 524.1,735.1 528.1,727.1 530.1,719.1 534.1,711.1 538.1,703.1" fill="#eba750"/>
<polygon points="530.1,727.1 542.1,719.1 554.1,715.1 558.1,727.1 568.2,735.1 568.2,755.1 572.2,771.2 566.2,775.2 558.1,767.1 550.1,763.1 540.1,755.1 530.1,751.1 524.1,743.1" fill="#e48a3c"/>
<polygon points="536.1,735.1 550.1,733.1 558.1,743.1 566.2,753.1 562.1,759.1 550.1,757.1 540.1,753.1" fill="#d97b3f"/>
<polygon points="539.1,740.1 548.1,738.1 554.1,745.1 562.1,752.1 558.1,755.1 550.1,754.1 543.1,751.1 539.1,745.1" fill="#a66c21"/>
<polygon points="534.1,763.1 540.1,761.1 542.1,767.1 538.1,771.2 533.1,769.2" fill="#f4d080"/>
<polygon points="535.7,764.7 539.7,764.1 540.1,768.1 536.1,768.8" fill="#ffed00"/>
<polygon points="558.1,727.1 568.2,731.1 570.2,735.1 564.2,737.1 558.1,733.1" fill="#f4d080"/>
<polygon points="528.1,733.1 534.1,733.1 534.1,739.1 528.1,739.1" fill="#7bccc4"/>
<polygon points="529.7,734.7 532.5,734.7 532.5,737.5 529.7,737.5" fill="#eba750"/>
<polygon points="508.1,764.1 514.1,763.1 515.1,773.2 509.1,775.2" fill="#0868ac"/>
<polygon points="506.1,763.1 509.1,763.1 509.1,767.1 506.1,767.1" fill="#ffed00"/>
<polygon points="476.1,791.2 484.1,787.2 494.1,781.2 498.1,777.2 508.1,777.2 516.1,785.2 524.1,787.2 532.1,781.2 538.1,785.2 544.1,791.2 554.1,791.2 556.1,801.2 548.1,807.2 538.1,810.2 534.1,813.2 526.1,815.2 518.1,814.2 510.1,816.2 504.1,815.2 498.1,813.2 490.1,814.2 484.1,814.2 486.1,805.2 490.1,799.2 480.1,797.2" fill="#7bccc4"/>
<polygon points="478.1,793.2 486.1,789.2 490.1,792.2 486.1,795.2 479.1,796.2" fill="#2b8cbe"/>
<polygon points="498.1,785.2 506.1,781.2 514.1,785.2 522.1,789.2 530.1,783.2 538.1,787.2 542.1,791.2 554.1,792.2 555.1,801.2 548.1,805.2 540.1,803.2 534.1,805.2 526.1,803.2 522.1,809.2 514.1,811.2 506.1,807.2 498.1,813.2 490.1,814.2 484.1,813.2 486.1,807.2 494.1,803.2 500.1,795.2" fill="#2b8cbe"/>
<polygon points="518.1,789.2 530.1,785.2 536.1,789.2 538.1,795.2 534.1,801.2 526.1,801.2 522.1,807.2 514.1,809.2 518.1,801.2 516.1,795.2" fill="#0868ac"/>
<polygon points="550.1,791.2 555.1,792.2 555.1,800.2 550.1,801.2" fill="#0868ac"/>
<polygon points="486.1,807.2 494.1,805.2 498.1,810.2 490.1,813.2" fill="#0868ac"/>
<polygon points="523.1,789.2 530.1,788.8 530.1,794.2 524.1,795.2" fill="#cccccc"/>
<polygon points="542.1,791.2 548.1,791.2 548.1,801.2 542.1,801.2" fill="#7bccc4"/>
<polygon points="508.1,777.2 518.1,783.2 524.1,785.2 532.1,779.2 538.1,783.2 546.1,789.2 554.1,791.2 562.1,789.2 566.2,795.2 558.1,799.2 550.1,803.2 548.1,810.2 538.1,810.2 534.1,813.2 526.1,815.2 522.1,812.2 530.1,807.2 538.1,805.2 542.1,799.2 556.1,801.2 555.1,792.2 542.1,790.8 538.1,786.2 530.1,782.8 524.1,788.2 516.1,787.2 508.1,781.2" fill="#ffed00"/>
<polygon points="562.1,795.2 568.2,795.2 568.2,803.2 562.1,803.2" fill="#ffed00"/>
<polygon points="562.1,796.2 567.2,796.2 567.2,798.2 562.1,798.2" fill="#2b8cbe"/>
</g>
<g clip-path="url(#t8)">
<polygon points="611,611 643,611 611,647" fill="#ffed00"/>
<polygon points="611,611 635,611 611,637" fill="#ffec80"/>
<polygon points="611,611 627,611 623,623 611,635" fill="#f4d080"/>
<polygon points="611,623 619,625 611,635" fill="#eba750"/>
</g>
<g clip-path="url(#t9)">
<polygon points="330,490 490,490 490,650 330,650" fill="#cccccc"/>
<polygon points="330,490 490,490 490,536.9 465.9,535.3 448.8,549.4 437.8,547.8 423.8,550.9 419.1,554.1 412.8,549.4 405,550.9 394.1,552.5 386.2,550.9 381.6,543.1 372.2,536.9 365.9,534.5 359.7,538.4 348.8,536.9 340.9,540.8 330,535.3" fill="#2b8cbe"/>
<polygon points="344.1,490 411.2,490 405,499.4 392.5,507.2 400.3,516.6 411.2,522.8 417.5,530.6 430,532.2 442.5,529.1 464.4,530.6 459.7,541.6 451.9,541.6 445.6,536.9 430,535.3 417.5,541.6 408.1,541.6 403.4,535.3 395.6,527.5 384.7,524.4 373.8,518.1 361.2,516.6 353.4,510.3 345.6,499.4" fill="#0868ac"/>
<polygon points="330,500.9 339.4,499.4 348.8,505.6 353.4,515 345.6,521.2 336.2,522.8 330,518.1" fill="#0868ac"/>
<polygon points="359.7,532.2 367.5,528.3 381.6,527.5 392.5,535.3 400.3,541.6 405,550.9 394.1,552.5 386.2,550.9 381.6,543.1 372.2,536.9 365.9,534.5" fill="#7bccc4"/>
<polygon points="389.4,535.3 395.6,533.8 398.8,541.6 398.8,547.8 392.5,549.4 389.4,543.1" fill="#a8ddb5"/>
<polygon points="423.8,543.1 430,538.4 442.5,538.4 453.4,540 448.8,549.4 437.8,547.8 426.9,549.4" fill="#7bccc4"/>
<polygon points="425.3,543.1 437.8,542.3 437.8,547 426.9,547.8" fill="#cccccc"/>
<polygon points="390.9,507.2 403.4,505.6 408.1,496.2 411.2,490 473.8,490 476.9,496.2 478.4,502.5 470.6,504.1 465.9,508.8 467.5,518.1 480,527.5 476.9,541.6 470.6,541.6 470.6,535.3 464.4,529.1 455,527.5 448.8,525.9 445.6,529.1 440.9,527.5 439.4,518.1 431.6,516.6 433.1,522.8 423.8,527.5 419.1,530.6 415.9,525.9 417.5,519.7 412.8,521.2 401.9,518.1 400.3,513.4" fill="#ffed00"/>
<polygon points="417.5,507.2 430,505.6 431.6,513.4 423.8,516.6 419.1,513.4" fill="#0868ac"/>
<polygon points="430,516.6 439.4,515.8 440.9,524.4 433.1,523.6" fill="#0868ac"/>
<polygon points="425.3,490 433.1,490 431.6,494.7 425.3,495.5" fill="#0868ac"/>
<polygon points="444.8,499.4 449.5,499.4 449.5,505.6 444.8,505.6" fill="#0868ac"/>
<polygon points="446.4,500.9 448,500.9 448,504.1 446.4,504.1" fill="#ffed00"/>
<polygon points="405,507.2 408.1,507.2 408.1,510.3 405,510.3" fill="#0868ac"/>
<polygon points="411.2,499.4 414.4,499.4 414.4,502.5 411.2,502.5" fill="#0868ac"/>
<polygon points="390.9,491.9 392.8,491.9 392.8,493.8 390.9,493.8" fill="#ffed00"/>
<polygon points="448.8,504.1 458.1,499.4 465.9,497.8 469.1,504.1 465.9,508.8 467.5,518.1 464.4,522.8 451.9,521.2 448.8,513.4" fill="#ffec80"/>
<polygon points="473.8,490 490,490 490,521.2 484.7,519.7 478.4,505.6 475.3,499.4" fill="#2b8cbe"/>
<polygon points="480,493.1 490,493.1 490,507.2 483.1,507.2" fill="#cccccc"/>
<polygon points="476.9,494.7 480.8,493.9 483.9,507.2 490,508 490,511.9 482.3,511.1" fill="#e0f3db"/>
<polygon points="465.9,535.3 486.2,521.2 490,521.2 490,586.9 484.7,580.6 478.4,565 470.6,555.6 467.5,550.9 459.7,542.3" fill="#0868ac"/>
<polygon points="470.6,529.1 480,527.5 480.8,536.9 476.9,543.1 470.6,541.6" fill="#ffed00"/>
<polygon points="467.5,550.9 476.9,552.5 480,565 486.2,577.5 490,583.8 490,590 483.1,580.6 476.9,571.2 470.6,558.8" fill="#2b8cbe"/>
<polygon points="394.1,552.5 405,550.9 412.8,549.4 419.1,554.1 423.8,550.9 437.8,547.8 448.8,549.4 459.7,542.3 462.8,547.8 467.5,552.5 470.6,558.8 475.3,568.1 477.7,577.5 476.9,583.8 473.8,591.6 467.5,597.8 461.2,604.1 457.3,611.9 448.8,610.3 439.4,608.8 430,610.3 423.8,608.8 417.5,605.6 411.2,599.4 403.4,597.8 392.5,599.4 383.1,597.8 389.4,590 395.6,585.3 400.3,580.6 401.9,576.7 395.6,574.4 390.9,571.2 392.5,568.1 391.7,563.4 394.8,558.8" fill="#7bccc4"/>
<polygon points="464.4,555.6 470.6,558.8 475.3,568.1 477.7,577.5 476.9,583.8 473.8,591.6 467.5,597.8 464.4,590 462.8,577.5 465.9,568.1" fill="#e0f3db"/>
<polygon points="459.7,544.7 467.5,552.5 470.6,558.8 465.9,558.8 461.2,552.5" fill="#cccccc"/>
<polygon points="470.6,560.3 475.3,568.1 476.9,577.5 473.8,577.5 470.6,568.1" fill="#cccccc"/>
<polygon points="394.1,552.5 403.4,551.7 401.9,558.8 398.8,565 400.3,574.4 395.6,574.4 390.9,571.2 392.5,568.1 391.7,563.4 394.8,558.8" fill="#a8ddb5"/>
<polygon points="398.8,558.8 405,555.6 417.5,552.5 426.9,552.5 433.1,555.6 436.2,561.9 431.6,568.1 425.3,565 420.6,558.8 411.2,560.3 408.1,565 414.4,569.7 415.9,575.9 411.2,580.6 405,582.2 401.9,575.9 398.8,568.1" fill="#2b8cbe"/>
<polygon points="406.6,563.4 414.4,561.9 417.5,568.1 411.2,571.2" fill="#7bccc4"/>
<polygon points="445.6,591.6 449.5,591.6 449.5,597 445.6,597" fill="#2b8cbe"/>
<polygon points="440.2,600.9 444.8,600.9 444.8,603.3 440.2,603.3" fill="#2b8cbe"/>
<polygon points="445.6,566.6 450.3,565 451.9,572.8 447.2,574.4" fill="#2b8cbe"/>
<polygon points="398.8,580.6 405,583.8 417.5,580.6 423.8,577.5 430,583.8 439.4,585.3 442.5,593.1 439.4,599.4 430,602.5 420.6,599.4 414.4,593.1 408.1,590 398.8,590 392.5,593.1 389.4,597.8 383.1,597.8 389.4,590 395.6,585.3" fill="#a8ddb5"/>
<polygon points="422.2,586.9 430,585.3 431.6,591.6 423.8,593.1" fill="#e0f3db"/>
<polygon points="437.8,555.6 448.8,552.5 455,558.8 448.8,563.4 439.4,561.9" fill="#a8ddb5"/>
<polygon points="376.9,599.4 392.5,599.4 403.4,597.8 411.2,599.4 414.4,608.8 408.1,615 411.2,624.4 405,630.6 400.3,627.5 401.9,618.1 397.2,611.9 389.4,610.3 381.6,608.8 375.3,605.6" fill="#e0f3db"/>
<polygon points="381.6,602.5 392.5,601.7 395.6,607.2 384.7,607.2" fill="#cccccc"/>
<polygon points="370.6,615 376.9,611.9 380,618.1 373.8,624.4 369.1,622.8" fill="#e0f3db"/>
<polygon points="372.2,616.6 376.1,616.6 376.1,619.7 372.2,619.7" fill="#7bccc4"/>
<polygon points="461.2,604.1 473.8,602.5 476.9,611.9 470.6,615 464.4,613.4" fill="#e0f3db"/>
<polygon points="475.3,616.6 483.1,615.8 483.9,619.7 476.1,620.5" fill="#7bccc4"/>
<polygon points="401.9,632.2 409.7,631.4 411.2,638.4 403.4,638.4" fill="#e0f3db"/>
<polygon points="456.6,639.2 464.4,638.4 465.9,644.7 458.1,645.5" fill="#e0f3db"/>
<polygon points="378.4,597 383.9,596.2 383.9,599.4 379.2,600.2" fill="#2b8cbe"/>
<polygon points="381.6,595.9 383.9,595.9 383.9,597.5 381.6,597.5" fill="#ffed00"/>
</g>
<g clip-path="url(#t10)">
<polygon points="540,440 700,440 700,600 540,600" fill="#cccccc"/>
<polygon points="579.1,455.6 585.3,447.8 591.6,440 627.5,440 624.4,444.7 613.4,446.2 602.5,447.8 593.1,450.9 586.9,458.8 580.6,460.3" fill="#e0f3db"/>
<polygon points="571.2,508.8 585.3,500.9 602.5,500.9 607.2,486.9 602.5,477.5 586.9,480.6 585.3,472.8 605.6,463.4 624.4,462.7 646.2,471.2 668.1,472.8 690,461.9 700,465 700,600 540,600 540,549.4 558.8,552.5 560.3,527.5 571.2,524.4" fill="#e0f3db"/>
<polygon points="575.9,515 586.9,513.4 591.6,519.7 583.8,522.8 577.5,521.2" fill="#cccccc"/>
<polygon points="591.6,521.2 600.9,522.8 602.5,530.6 594.7,529.1" fill="#cccccc"/>
<polygon points="602.5,471.2 607.2,471.2 607.2,474.4 602.5,474.4" fill="#cccccc"/>
<polygon points="618.1,468.1 622.8,468.1 622.8,472 618.1,472" fill="#cccccc"/>
<polygon points="548.6,520.5 555.6,520.5 555.6,526.7 548.6,526.7" fill="#e0f3db"/>
<polygon points="540,503.3 544.7,503.3 544.7,505.6 540,505.6" fill="#e0f3db"/>
<polygon points="611.9,486.9 624.4,482.2 633.8,475.9 640,479.1 649.4,485.3 661.9,491.6 672.8,491.6 680.6,479.1 700,474.4 700,600 540,600 540,552.5 571.2,556.4 582.2,549.4 593.1,546.2 605.6,547.8 608.8,540 605.6,527.5 608.8,513.4 613.4,502.5" fill="#a8ddb5"/>
<polygon points="613.4,502.5 621.2,505.6 629.1,513.4 627.5,518.1 621.2,511.9 613.4,507.2" fill="#e0f3db"/>
<polygon points="633.8,490 636.9,490 636.9,493.9 633.8,493.9" fill="#e0f3db"/>
<polygon points="646.2,479.1 655.6,482.2 663.4,490 658.8,490 649.4,485.3" fill="#e0f3db"/>
<polygon points="563.4,529.1 571.2,527.5 574.4,533.8 566.6,535.3" fill="#a8ddb5"/>
<polygon points="580.6,455.6 586.9,449.4 590,452.5 583.8,458.8" fill="#a8ddb5"/>
<polygon points="618.1,493.1 627.5,486.9 636.9,483.8 646.2,488.4 657.2,493.1 665,494.7 677.5,491.6 686.9,490 700,491.6 700,600 540,600 540,555.6 546.2,552.5 558.8,555.6 568.1,558.8 579.1,554.1 590,549.4 602.5,547.8 611.9,540 613.4,527.5 613.4,515 618.1,508.8 616.6,499.4" fill="#7bccc4"/>
<polygon points="624.4,496.2 633.8,494.7 640,497.8 636.9,502.5 627.5,500.9" fill="#a8ddb5"/>
<polygon points="619.7,494.7 627.5,490 640,494.7 658.8,496.2 677.5,497.8 680.6,505.6 700,507.2 700,600 540,600 540,558.8 558.8,563.4 575.9,569.7 591.6,555.6 608.8,549.4 618.1,547.8 615,533.8 616.6,518.1 621.2,507.2" fill="#2b8cbe"/>
<polygon points="621.2,508.8 627.5,515 636.9,521.2 649.4,524.4 661.9,529.1 665,524.4 655.6,519.7 643.1,516.6 632.2,510.3 624.4,502.5" fill="#7bccc4"/>
<polygon points="630.6,513.4 640,516.6 652.5,519.7 660.3,522.8 655.6,525.9 643.1,521.2 633.8,518.1" fill="#a8ddb5"/>
<polygon points="627.5,491.6 636.9,491.6 643.1,497.8 640,505.6 632.2,502.5" fill="#7bccc4"/>
<polygon points="631.4,490 636.1,490 636.1,494.7 631.4,494.7" fill="#e0f3db"/>
<polygon points="647.8,502.5 654.1,499.4 660.3,502.5 661.9,510.3 655.6,513.4 649.4,510.3" fill="#0868ac"/>
<polygon points="668.1,508.8 675.9,507.2 683.8,513.4 686.9,521.2 680.6,527.5 674.4,522.8 669.7,516.6" fill="#0868ac"/>
<polygon points="615,527.5 621.2,521.2 627.5,527.5 636.9,533.8 643.1,536.9 640,541.6 624.4,543.1 618.1,547.8 613.4,540" fill="#0868ac"/>
<polygon points="602.5,565 621.2,546.2 640,541.6 649.4,533.8 665,529.8 683.8,529.8 700,516.6 700,600 540,600 540,577.5 552.5,574.4 571.2,572.8 583.8,575.9 591.6,569.7 599.4,568.1" fill="#0868ac"/>
<polygon points="649.4,536.9 658.8,532.2 672.8,533.8 677.5,541.6 680.6,552.5 677.5,563.4 665,563.4 652.5,565 640,569.7 643.1,560.3 652.5,552.5 649.4,544.7" fill="#2b8cbe"/>
<polygon points="655.6,536.9 665,533.8 672.8,538.4 671.2,546.2 665,549.4 672.8,554.1 669.7,560.3 658.8,560.3 654.1,554.1 657.2,546.2" fill="#7bccc4"/>
<polygon points="657.2,535.3 665,533.8 668.1,540 661.9,541.6" fill="#a8ddb5"/>
<polygon points="660.3,549.4 666.6,547.8 669.7,554.1 663.4,557.2" fill="#a8ddb5"/>
<polygon points="610.3,561.9 618.1,552.5 624.4,558.8 625.9,566.6 621.2,571.2 615,569.7" fill="#2b8cbe"/>
<polygon points="613.4,563.4 618.1,557.2 621.2,563.4 618.1,569.7" fill="#7bccc4"/>
<polygon points="693.1,524.4 700,521.2 700,540 696.2,533.8" fill="#2b8cbe"/>
<polygon points="540,569.7 544.7,568.1 546.2,575.9 540,577.5" fill="#7bccc4"/>
<polygon points="575.9,600 582.2,593.1 590,588.4 597.8,580.6 602.5,575.9 608.8,577.5 615,583.8 618.1,586.9 621.2,583.8 626.7,575.2 632.2,582.2 640,590 646.2,592.3 652.5,596.2 658.8,594.7 665,590 663.4,596.2 658.8,600" fill="#ffed00"/>
<polygon points="666.6,586.9 672.8,579.1 680.6,575.9 686.9,568.1 694.7,560.3 700,558.8 700,575.9 690,580.6 680.6,585.3 672.8,590" fill="#ffed00"/>
</g>
<g clip-path="url(#t11)">
<polygon points="480,340 640,340 640,500 480,500" fill="#cccccc"/>
<polygon points="480,340 515.2,340 508.9,350.9 509.7,366.6 505,383.8 501.9,394.7 490.9,397 480,411.9" fill="#7bccc4"/>
<polygon points="480,340 489.4,340 489.4,349.4 486.2,358.8 487.8,371.2 480,379.1" fill="#a8ddb5"/>
<polygon points="480,382.2 489.4,380.6 500.3,371.2 508.1,369.7 505,383.8 501.9,394.7 490.9,397 480,411.9" fill="#2b8cbe"/>
<polygon points="480,396.2 489.4,393.1 495.6,394.7 490.9,397 480,411.9" fill="#0868ac"/>
<polygon points="515.2,340 548.8,340 547.2,352.5 538.6,356.4 530,368.1 522.2,364.2 509.7,366.6 508.9,350.9" fill="#a8ddb5"/>
<polygon points="515.9,343.1 526.9,341.6 526.9,349.4 517.5,349.4" fill="#e0f3db"/>
<polygon points="517.5,354.1 523.8,352.5 525.3,360.3 519.1,361.9" fill="#7bccc4"/>
<polygon points="533.1,347.8 539.4,346.2 539.4,352.5 534.7,353.3" fill="#e0f3db"/>
<polygon points="522.2,365 530,368.1 538.6,356.4 542.5,368.1 545.6,377.5 539.4,383.8 533.1,380.6 526.9,386.9 520.6,380.6 522.2,371.2" fill="#7bccc4"/>
<polygon points="530.8,372 534.7,372 534.7,376.7 530.8,376.7" fill="#2b8cbe"/>
<polygon points="523.8,371.2 528.4,371.2 528.4,380.6 523.8,380.6" fill="#e0f3db"/>
<polygon points="480,440 486.2,436.9 489.4,427.5 503.4,421.2 509.7,411.9 512.8,402.5 515.9,405.6 511.2,418.1 503.4,427.5 495.6,433.8 498.8,446.2 492.5,449.4 486.2,443.1 480,446.2" fill="#7bccc4"/>
<polygon points="509.7,366.6 522.2,368.1 520.6,380.6 526.9,386.9 520.6,391.6 511.2,394.7 512.8,402.5 509.7,411.9 503.4,421.2 489.4,427.5 486.2,436.9 480,440 480,411.9 490.9,397 501.9,394.7" fill="#2b8cbe"/>
<polygon points="509.7,375.9 517.5,374.4 519.1,380.6 511.2,385.3 506.6,383.8" fill="#0868ac"/>
<polygon points="480,413.4 489.4,399.4 497.2,400.9 495.6,408.8 489.4,415 486.2,424.4 480,427.5" fill="#0868ac"/>
<polygon points="497.2,402.5 505,400.9 509.7,407.2 506.6,418.1 498.8,421.2 494.8,413.4" fill="#7bccc4"/>
<polygon points="499.5,413.4 505,413.4 505,418.1 499.5,418.1" fill="#cccccc"/>
<polygon points="500.3,401.7 505,401.7 505,405.6 500.3,405.6" fill="#cccccc"/>
<polygon points="495.6,433.8 503.4,427.5 511.2,430.6 514.4,436.9 505,440 503.4,449.4 514.4,449.4 514.4,455.6 505,455.6 503.4,461.9 498.8,458.8 495.6,449.4 489.4,452.5" fill="#e0f3db"/>
<polygon points="522.2,440 531.6,440 542.5,441.6 542.5,447.8 531.6,446.2 523.8,443.9" fill="#e0f3db"/>
<polygon points="525.3,441.6 530,441.6 530,443.9 525.3,443.9" fill="#7bccc4"/>
<polygon points="539.4,396.2 548.8,393.1 553.4,390 553.4,394.7 548.8,399.4 542.5,399.4" fill="#e0f3db"/>
<polygon points="555,384.5 560.5,384.5 560.5,390 555,390" fill="#e0f3db"/>
<polygon points="480,463.4 484.7,461.9 486.2,469.7 480,471.2" fill="#e0f3db"/>
<polygon points="510.5,475.9 517.5,472.8 519.1,479.1 511.2,480.6" fill="#e0f3db"/>
<polygon points="526.9,469.7 533.1,469.7 533.1,475.9 526.9,475.9" fill="#e0f3db"/>
<polygon points="519.1,490 531.6,488.4 531.6,496.2 520.6,497.8" fill="#e0f3db"/>
<polygon points="498.8,496.2 511.2,494.7 514.4,500 498.8,500" fill="#e0f3db"/>
<polygon points="480,485.3 483.1,485.3 483.1,493.1 480,493.1" fill="#7bccc4"/>
<polygon points="598.8,365 614.4,371.2 630,385.3 637.8,391.6 640,399.4 631.6,399.4 620.6,386.9 608.1,375.9" fill="#e0f3db"/>
<polygon points="580,354.1 592.5,355.6 605,368.1 617.5,380.6 620.6,393.1 605,399.4 592.5,393.1 584.7,385.3 581.6,371.2" fill="#7bccc4"/>
<polygon points="581.6,355.6 589.4,357.2 598.8,365 605,374.4 614.4,383.8 617.5,391.6 605,396.2 595.6,390 587.8,383.8 583.1,374.4 582.3,363.4" fill="#2b8cbe"/>
<polygon points="584.7,363.4 592.5,366.6 600.3,375.9 605,385.3 603.4,393.1 597.2,386.9 589.4,382.2 586.2,372.8" fill="#0868ac"/>
<polygon points="591.7,377.5 597.2,377.5 597.2,383 591.7,383" fill="#7bccc4"/>
<polygon points="576.9,344.7 581.6,344.7 589.4,354.1 583.1,355.6 578.4,350.9" fill="#7bccc4"/>
<polygon points="583.1,394.7 592.5,393.1 605,399.4 617.5,394.7 630,399.4 625.3,408.8 619.1,413.4 619.1,424.4 626.9,425.9 628.4,440 620.6,446.2 609.7,447.8 595.6,447.8 589.4,455.6 586.2,461.9 578.4,460.3 581.6,450.9 587.8,443.1 587.8,427.5 592.5,418.1 595.6,408.8 589.4,402.5 583.1,402.5" fill="#e0f3db"/>
<polygon points="601.9,405.6 609.7,411.9 612.8,418.1 608.1,418.1 601.9,410.3" fill="#a8ddb5"/>
<polygon points="595.6,426.7 601.1,426.7 601.1,432.2 595.6,432.2" fill="#cccccc"/>
<polygon points="603.4,415 607.3,415 607.3,421.2 603.4,421.2" fill="#cccccc"/>
<polygon points="587.8,432.2 592.5,432.2 592.5,441.6 587.8,441.6" fill="#a8ddb5"/>
<polygon points="580,452.5 589.4,449.4 587.8,458.8 580,460.3" fill="#a8ddb5"/>
<polygon points="619.1,424.4 618.3,413.4 630,399.4 640,400.9 640,424.4 626.9,425.9" fill="#cccccc"/>
<polygon points="620.6,413.4 626.9,411.9 626.9,421.2 620.6,421.2" fill="#e0f3db"/>
<polygon points="583.1,472.8 595.6,471.2 605,463.4 617.5,465 630,461.9 640,463.4 640,500 605,500 603.4,486.9 595.6,485.3 587.8,482.2 583.1,479.1" fill="#e0f3db"/>
<polygon points="611.2,486.9 620.6,480.6 630,477.5 640,477.5 640,500 611.2,500" fill="#a8ddb5"/>
<polygon points="617.5,490 626.9,485.3 640,483.8 640,500 617.5,500" fill="#7bccc4"/>
<polygon points="622.2,491.6 626.9,490 626.9,496.2 622.2,500" fill="#2b8cbe"/>
<polygon points="605,471.2 609.7,471.2 609.7,475.9 605,475.9" fill="#cccccc"/>
<polygon points="617.5,468.1 622.2,468.1 622.2,472.8 617.5,472.8" fill="#cccccc"/>
</g>
<g clip-path="url(#t12)">
<polygon points="470,560 630,560 630,720 470,720" fill="#cccccc"/>
<polygon points="470,575.6 477.8,575.6 477.8,588.1 470,591.2" fill="#e0f3db"/>
<polygon points="470,605.3 476.2,605.3 476.2,613.1 470,613.1" fill="#e0f3db"/>
<polygon points="470,622.5 474.7,622.5 474.7,624.1 470,624.1" fill="#e0f3db"/>
<polygon points="476.2,617 484.1,617 484.1,620.2 476.2,620.2" fill="#7bccc4"/>
<polygon points="495,638.1 505.9,633.4 512.2,641.2 510.6,653.8 501.2,661.6 493.4,656.9" fill="#e0f3db"/>
<polygon points="515.3,578.8 523.1,577.2 532.5,586.6 538.8,599.1 545,606.9 538.8,611.6 532.5,605.3 523.1,602.2 518.4,591.2" fill="#e0f3db"/>
<polygon points="521.6,625.6 532.5,622.5 538.8,625.6 541.9,635 538.8,647.5 532.5,647.5 535.6,638.1 523.1,630.3" fill="#e0f3db"/>
<polygon points="498.1,605.3 501.2,603.8 499.7,611.6 497.3,610" fill="#e0f3db"/>
<polygon points="509.1,644.4 516.9,641.2 515.3,653.8 509.1,650.6" fill="#e0f3db"/>
<polygon points="470,680.3 485.6,678.8 493.4,672.5 495,675.6 485.6,681.9 470,683.4" fill="#e0f3db"/>
<polygon points="505.9,681.9 510.6,680.3 513.8,689.7 509.1,691.2" fill="#e0f3db"/>
<polygon points="477.8,563.1 485.6,560 630,560 630,720 529.4,720 532.5,710 524.7,705.3 515.3,700.6 501.2,692.8 495,681.9 496.6,669.4 495,660 501.2,660 507.5,653.8 513.8,653.8 521.6,656.9 532.5,653.8 535.6,638.1 529.4,633.4 532.5,627.2 537.2,622.5 538.8,611.6 532.5,605.3 526.2,602.2 523.1,591.2 520,583.4 516.9,577.2 513.8,575.6 509.1,583.4 507.5,591.2 504.4,600.6 499.7,600.6 498.1,591.2 496.6,585 490.3,580.3 485.6,575.6 480.9,569.4" fill="#7bccc4"/>
<polygon points="501.2,669.4 507.5,667.8 516.9,675.6 516.9,685 509.1,683.4" fill="#e0f3db"/>
<polygon points="524.7,599.1 529.4,597.5 535.6,602.2 532.5,605.3 526.2,603.8" fill="#a8ddb5"/>
<polygon points="479.4,560 630,560 630,720 532.5,720 535.6,710 529.4,700.6 521.6,697.5 515.3,691.2 516.9,685 510.6,678.8 512.2,672.5 523.1,672.5 532.5,669.4 538.8,675.6 545,678.8 551.2,675.6 548.1,666.2 543.4,656.9 545,641.2 543.4,627.2 538.8,619.4 543.4,613.1 545,606.9 540.3,600.6 535.6,591.2 529.4,581.9 523.1,574.1 516.9,569.4 512.2,574.1 509.1,581.9 504.4,591.2 501.2,589.7 501.2,581.9 496.6,577.2 488.8,570.9" fill="#2b8cbe"/>
<polygon points="534.1,656.9 540.3,653.8 545,660 548.1,669.4 543.4,674.1 537.2,669.4" fill="#7bccc4"/>
<polygon points="540.3,670.2 546.6,669.4 548.1,673.3 541.9,674.8" fill="#e0f3db"/>
<polygon points="484.1,560 521.6,560 523.1,569.4 532.5,577.2 538.8,569.4 551.2,574.1 570,577.2 588.8,575.6 602.8,566.2 602.8,560 630,560 630,720 535.6,720 535.6,706.9 529.4,697.5 523.1,694.4 516.9,688.1 513.8,681.9 515.3,675.6 524.7,674.1 535.6,675.6 543.4,685 554.4,686.6 557.5,681.9 554.4,669.4 548.1,660 548.1,647.5 554.4,638.1 554.4,627.2 545,622.5 543.4,616.2 548.1,611.6 551.2,603.8 545,597.5 540.3,591.2 535.6,581.9 527.8,574.1 520,570.9 515.3,566.2 510.6,572.5 509.1,580.3 503.6,589.7 500.5,580.3 493.4,574.1 487.2,567.8" fill="#0868ac"/>
<polygon points="562.2,560 582.5,560 585.6,564.7 577.8,569.4 566.9,566.2" fill="#7bccc4"/>
<polygon points="534.1,575.6 540.3,570.9 546.6,569.4 545,575.6 537.2,580.3" fill="#e0f3db"/>
<polygon points="521.6,560 562.2,560 566.9,566.2 557.5,570.9 548.1,567.8 538.8,567.8 532.5,575.6 523.9,568.6" fill="#2b8cbe"/>
<polygon points="582.5,560 602.8,560 602.8,566.2 593.4,570.9 585.6,566.2" fill="#2b8cbe"/>
<polygon points="607.5,560 630,560 630,575.6 626.2,574.1 620,575.6 610.6,569.4" fill="#2b8cbe"/>
<polygon points="613.8,563.1 620,561.6 621.6,567.8 616.9,569.4" fill="#7bccc4"/>
<polygon points="505.2,577.2 509.1,575.6 509.1,585 505.2,587.3" fill="#ffed00"/>
<polygon points="523.9,560 529.4,560 528.6,564.7 524.7,563.1" fill="#ffed00"/>
<polygon points="570,599.1 573.1,602.2 579.4,597.5 582.5,591.2 591.9,586.6 599.7,578.8 602.8,575.6 610.6,577.2 616.9,586.6 624.7,580.3 626.2,574.1 630,575.6 630,720 557.5,720 554.4,694.4 557.5,681.9 559.1,669.4 555.2,661.6 554.4,653.8 557.5,641.2 563.8,633.4 570,627.2 566.9,620.9 559.1,616.2 570,615.5 571.6,608.4 568.4,603.8" fill="#ffed00"/>
<polygon points="585.6,616.2 587.2,622.5 595,622.5 602.8,617.8 616.9,614.7 630,610 630,720 557.5,720 560.6,694.4 563.8,685 562.2,669.4 560.6,660 563.8,650.6 570,641.2 576.2,633.4 582.5,628.8" fill="#ffec80"/>
<polygon points="579.4,644.4 588.8,638.1 599.7,635 610.6,625.6 620,619.4 630,613.1 630,720 563.8,720 570,694.4 576.2,685 577.8,669.4 579.4,656.9 576.2,650.6" fill="#f4d080"/>
<polygon points="604.4,638.1 630,618.6 630,720 563.8,720 573.1,692.8 579.4,675.6 582.5,661.6 591.9,652.2" fill="#eba750"/>
<polygon points="610.6,638.9 630,624.8 630,720 595,720 584.1,669.4 588,659.2 599.7,648.3" fill="#e48a3c"/>
<polygon points="495,660 510.6,656.9 523.1,660 532.5,669.4 538.8,675.6 551.2,675.6 563.8,693.6 557.5,720 529.4,720 532.5,710 524.7,705.3 515.3,700.6 501.2,692.8 495,681.9" fill="#7bccc4"/>
<polygon points="505.9,678.8 510.6,677.2 515.3,688.1 521.6,694.4 516.9,695.9 509.1,689.7" fill="#e0f3db"/>
<polygon points="512.2,672.5 523.1,672.5 532.5,669.4 538.8,675.6 545,678.8 551.2,683.4 557.5,689.7 554.4,694.4 538.8,697.5 535.6,710 529.4,700.6 521.6,697.5 515.3,691.2 516.9,685 510.6,678.8" fill="#2b8cbe"/>
<polygon points="510.6,675.6 523.1,672.5 532.5,675.6 538.8,681.9 543.4,686.6 538.8,689.7 532.5,686.6 527.8,683.4 521.6,680.3 515.3,681.9" fill="#0868ac"/>
<polygon points="524.7,674.1 528.6,674.1 528.6,677.2 524.7,677.2" fill="#ffed00"/>
<polygon points="532.5,720 535.6,710 538.8,700.6 548.1,697.5 557.5,691.2 563.8,693.6 562.2,705.3 557.5,720" fill="#eba750"/>
<polygon points="538.8,697.5 545,694.4 554.4,691.2 557.5,694.4 551.2,700.6 541.9,703.8" fill="#f4d080"/>
<polygon points="527.8,685 532.5,685 537.2,697.5 538.8,710 532.5,720 529.4,720 534.1,710 532.5,697.5" fill="#ffed00"/>
<polygon points="540.3,689.7 546.6,686.6 552.8,689.7 554.4,697.5 548.1,700.6 541.9,697.5" fill="#ffed00"/>
<polygon points="543.4,691.2 549.7,690.5 551.2,695.9 545,697.5" fill="#7bccc4"/>
<polygon points="545,692.8 548.9,692.8 548.9,695.9 545,695.9" fill="#cccccc"/>
<polygon points="498.1,642.8 504.4,639.7 508.3,644.4 507.5,652.2 501.2,656.9 496.6,653.8" fill="#2b8cbe"/>
<polygon points="500.5,645.2 505.2,645.2 505.2,650.6 500.5,650.6" fill="#ffed00"/>
<polygon points="495.8,654.5 499.7,654.5 499.7,658.4 495.8,658.4" fill="#ffed00"/>
</g>
<g clip-path="url(#t13)">
<polygon points="340,640 500,640 500,800 340,800" fill="#cccccc"/>
<polygon points="371.2,696.2 379.1,693.1 385.3,679.1 394.7,671.2 407.2,666.6 408.8,658.8 421.2,663.4 430.6,663.4 429.1,668.1 421.2,669.7 419.7,680.6 416.6,690 424.4,696.2 429.1,704.1 427.5,713.4 433.8,727.5 436.9,733.8 424.4,736.9 421.2,729.1 415,727.5 413.4,733.8 407.2,732.2 399.4,724.4 396.2,733.8 391.6,727.5 393.1,718.1 396.2,713.4 386.9,702.5 377.5,702.5 372.8,705.6" fill="#e0f3db"/>
<polygon points="383.8,686.9 394.7,680.6 397.8,671.2 402.5,669.7 407.2,679.1 413.4,675.9 413.4,686.9 418.1,693.1 415,702.5 411.9,708.8 421.2,715 424.4,727.5 418.1,727.5 410.3,718.1 402.5,721.2 396.2,718.1 397.8,708.8 391.6,705.6 388.4,697.8" fill="#a8ddb5"/>
<polygon points="399.4,682.2 404.1,680.6 405.6,688.4 408.8,691.6 405.6,697.8 399.4,700.9 393.1,700.2 393.9,697 400.9,694.7 402.5,690" fill="#7bccc4"/>
<polygon points="394.7,724.4 399.4,727.5 405.6,733.8 411.9,741.6 408.8,744.7 402.5,740 396.2,732.2" fill="#a8ddb5"/>
<polygon points="402.5,733.8 407.2,735.3 411.9,740 410.3,744.7 405.6,743.1" fill="#7bccc4"/>
<polygon points="452.5,679.1 461.9,677.5 471.2,680.6 483.8,675.9 493.1,672.8 496.2,675.9 486.9,680.6 474.4,683.8 458.8,683.8" fill="#e0f3db"/>
<polygon points="457.2,649.4 463.4,649.4 463.4,654.1 457.2,654.1" fill="#e0f3db"/>
<polygon points="457.2,640 465,640 465,644.7 457.2,644.7" fill="#e0f3db"/>
<polygon points="436.9,671.2 441.6,671.2 441.6,674.4 436.9,674.4" fill="#e0f3db"/>
<polygon points="477.5,743.1 486.9,738.4 496.2,732.2 500,730.6 500,736.9 493.1,743.1 483.8,747.8" fill="#e0f3db"/>
<polygon points="485.3,740 490,739.2 488.4,743.9 484.5,744.7" fill="#2b8cbe"/>
<polygon points="449.4,761.9 457.2,755.6 465,750.9 474.4,752.5 471.2,763.4 461.9,766.6 452.5,766.6" fill="#e0f3db"/>
<polygon points="454.1,760.3 460.3,756.4 469.7,755.6 469.7,763.4 460.3,765" fill="#7bccc4"/>
<polygon points="460.3,758.8 469.7,756.4 468.9,762.7 461.9,764.2" fill="#2b8cbe"/>
<polygon points="433.8,760.3 440,759.5 440,764.2 434.5,764.2" fill="#e0f3db"/>
<polygon points="419.7,756.4 424.4,758.8 425.2,763.4 421.2,761.1" fill="#e0f3db"/>
<polygon points="427.5,750.9 432.2,750.9 432.2,754.8 427.5,754.8" fill="#e0f3db"/>
<polygon points="410.8,747.8 412.7,747.8 412.7,749.7 410.8,749.7" fill="#2b8cbe"/>
<polygon points="494.7,668.1 500,666.6 500,693.1 496.2,691.6 493.9,680.6" fill="#7bccc4"/>
<polygon points="496.2,675.9 500,675.2 500,685.3 496.2,684.5" fill="#2b8cbe"/>
<polygon points="493.9,653.3 500,652.5 500,659.5 494.7,659.5" fill="#2b8cbe"/>
<polygon points="496.2,654.8 500,654.8 500,658 496.2,658" fill="#ffed00"/>
<polygon points="486.9,766.6 494.7,760.3 500,758.8 500,780.6 490,779.1 485.3,772.8" fill="#2b8cbe"/>
<polygon points="490,765 496.2,761.9 500,761.1 500,779.1 493.1,777.5 489.2,772.8" fill="#ffed00"/>
<polygon points="493.9,765 500,763.4 500,775.9 494.7,774.4" fill="#eba750"/>
<polygon points="474.4,790 486.9,786.9 500,785.3 500,800 474.4,800" fill="#7bccc4"/>
<polygon points="477.5,790.8 490,789.2 490,794.7 479.1,795.5" fill="#2b8cbe"/>
<polygon points="450.2,776.7 454.1,776.7 454.1,779.8 450.2,779.8" fill="#2b8cbe"/>
<polygon points="359.5,668.9 361.1,668.9 361.1,672 359.5,672" fill="#2b8cbe"/>
</g>
<g clip-path="url(#t14)">
<polygon points="480,680 640,680 640,840 480,840" fill="#cccccc"/>
<polygon points="489.4,680 498.8,680 501.9,689.4 511.2,698.8 520.6,706.6 531.6,711.2 531.6,720.6 519.1,719.1 508.1,711.2 498.8,701.9 492.5,692.5" fill="#e0f3db"/>
<polygon points="495.6,722.2 505,719.1 519.1,719.1 526.9,723.8 520.6,730 508.1,726.9 498.8,731.6 489.4,742.5 480,745.6 480,740.9 489.4,734.7" fill="#e0f3db"/>
<polygon points="494.1,680 531.6,680 539.4,689.4 534.7,701.9 531.6,711.2 523.8,706.6 514.4,700.3 505,695.6 497.2,687.8" fill="#7bccc4"/>
<polygon points="500.3,722.2 511.2,720.6 520.6,725.3 515.9,731.6 506.6,728.4" fill="#7bccc4"/>
<polygon points="480,739.4 486.2,737.8 489.4,742.5 483.1,745.6 480,745.6" fill="#7bccc4"/>
<polygon points="506.6,683.1 511.2,681.6 517.5,692.5 514.4,695.6" fill="#e0f3db"/>
<polygon points="495.6,680 500.3,680 500.3,684.7 495.6,684.7" fill="#2b8cbe"/>
<polygon points="511.2,692.5 520.6,690.9 526.9,697.2 531.6,703.4 526.9,706.6 517.5,701.9" fill="#2b8cbe"/>
<polygon points="519.1,680 531.6,680 534.7,686.2 531.6,692.5 525.3,687.8" fill="#2b8cbe"/>
<polygon points="503.4,734.7 509.7,734.7 509.7,742.5 505,744.1 503.4,740.9" fill="#2b8cbe"/>
<polygon points="515.9,739.4 520.6,737.8 522.2,744.1 517.5,744.8" fill="#2b8cbe"/>
<polygon points="508.1,750.3 515.9,750.3 515.9,752.7 508.1,752.7" fill="#2b8cbe"/>
<polygon points="522.2,719.1 526.9,717.5 526.9,725.3 523,726.9" fill="#2b8cbe"/>
<polygon points="539.4,680 558.1,680 558.1,689.4 550.3,686.2 542.5,683.1" fill="#0868ac"/>
<polygon points="528.4,684.7 534.7,686.2 537.8,695.6 542.5,689.4 548.8,687.8 555,690.9 558.1,689.4 556.6,680 580,680 565.2,694.1 561.2,705 556.6,719.1 559.7,725.3 567.5,730 572.2,734.7 569.1,742.5 567.5,748.8 570.6,758.1 573.8,770.6 578.4,786.2 590.9,792.5 589.4,796.4 576.9,801.1 567.5,805 558.1,807.3 550.3,811.2 547.2,809.7 537.8,809.7 534.7,812.8 526.9,816.7 523.8,814.4 528.4,809.7 534.7,806.6 539.4,803.4 545.6,805 555,800.3 553.4,792.5 545.6,789.4 539.4,787.8 534.7,781.6 526.9,780 522.2,784.7 511.2,781.6 506.6,776.9 500.3,775.3 494.1,776.9 489.4,772.2 490.9,765.9 498.8,761.2 506.6,753.4 517.5,748.8 519.1,740.9 525.3,737.8 523.8,731.6 526.9,722.2 533.1,715.9 534.7,708.1 533.1,698.8 530,690.9" fill="#ffed00"/>
<polygon points="561.2,680 580,680 570.6,690.9 564.4,694.1 562.8,686.2" fill="#ffec80"/>
<polygon points="567.5,684.7 576.9,680 583.1,680 572.2,690.9 565.9,694.1" fill="#eba750"/>
<polygon points="542.5,700.3 548.8,697.2 558.1,695.6 564.4,695.6 561.2,705 556.6,719.1 559.7,725.3 567.5,730 572.2,734.7 569.1,742.5 567.5,748.8 570.6,758.1 573.8,770.6 578.4,786.2 590.9,792.5 589.4,796.4 576.9,801.1 567.5,805 558.1,807.3 550.3,811.2 548.8,806.6 555,803.4 556.6,795.6 548.8,789.4 542.5,787.8 537.8,781.6 531.6,776.9 525.3,778.4 517.5,776.9 514.4,767.5 508.1,764.4 500.3,773.8 494.1,773.8 492.5,767.5 500.3,762.8 508.1,755 519.1,750.3 522.2,742.5 528.4,739.4 526.9,731.6 531.6,722.2 537.8,717.5 539.4,709.7" fill="#eba750"/>
<polygon points="537.8,700.3 542.5,695.6 548.8,697.2 544.1,703.4 545.6,711.2 539.4,712.8 536.2,708.1" fill="#ffec80"/>
<polygon points="542.5,703.4 550.3,700.3 558.1,703.4 555,711.2 548.8,712.8 542.5,709.7" fill="#f4d080"/>
<polygon points="539.4,726.9 548.8,725.3 558.1,726.9 564.4,731.6 567.5,742.5 569.1,753.4 572.2,764.4 567.5,773.8 558.1,767.5 551.9,761.2 542.5,755 531.6,758.1 522.2,761.2 519.1,753.4 526.9,747.2 536.2,739.4" fill="#e48a3c"/>
<polygon points="558.1,728.4 564.4,730 564.4,736.2 559.7,737.8 557.3,733.1" fill="#f4d080"/>
<polygon points="533.1,762.8 539.4,761.2 542.5,767.5 537.8,772.2 533.9,769.1" fill="#f4d080"/>
<polygon points="535.5,765.2 539.4,765.2 539.4,769.1 535.5,769.1" fill="#ffed00"/>
<polygon points="537.8,736.2 547.2,733.1 555,742.5 564.4,748.8 565.9,755 558.1,756.6 548.8,753.4 542.5,748.8" fill="#d97b3f"/>
<polygon points="539.4,739.4 547.2,737.8 551.9,744.1 564.4,750.3 565.2,754.2 556.6,753.4 548.8,756.6 544.1,750.3 540.2,745.6" fill="#a66c21"/>
<polygon points="527.7,733.1 533.9,732.3 534.7,739.4 528.4,740.9" fill="#ffed00"/>
<polygon points="529.7,734.7 533.1,734.4 533.4,738.1 530,738.8" fill="#7bccc4"/>
<polygon points="542.5,690.9 548.8,689.4 553.4,694.1 551.9,700.3 545.6,700.3 542.5,695.6" fill="#ffed00"/>
<polygon points="544.8,691.7 550.3,691.7 551.1,698 545.6,698" fill="#7bccc4"/>
<polygon points="545.6,692.8 549.5,692.8 549.5,696.9 545.6,696.9" fill="#cccccc"/>
<polygon points="508.9,765.2 513.6,764.4 514.4,772.2 509.7,773.8" fill="#0868ac"/>
<polygon points="480,781.6 489.4,780 495.6,773.8 489.4,770.6 483.1,773.8 480,776.9" fill="#e0f3db"/>
<polygon points="480,789.4 489.4,787.8 497.2,780 503.4,775.3 511.2,781.6 522.2,784.7 526.9,780 534.7,781.6 539.4,787.8 545.6,789.4 553.4,792.5 555,800.3 545.6,805 539.4,803.4 534.7,806.6 528.4,809.7 523.8,814.4 517.5,814.4 511.2,815.9 503.4,816.7 495.6,812.8 489.4,814.4 480,813.6" fill="#7bccc4"/>
<polygon points="498.8,783.1 505,780 511.2,783.1 522.2,786.2 526.9,781.6 534.7,783.1 539.4,789.4 553.4,792.5 555,800.3 547.2,803.4 539.4,801.9 533.1,806.6 526.9,809.7 519.1,808.1 514.4,801.9 511.2,792.5 503.4,789.4 498.8,792.5" fill="#2b8cbe"/>
<polygon points="484.7,808.1 495.6,805 501.9,808.1 508.1,806.6 511.2,812.8 503.4,815.2 495.6,812 489.4,813.6 484.7,812.8" fill="#2b8cbe"/>
<polygon points="480,790.2 489.4,789.4 489.4,794.1 480,794.8" fill="#2b8cbe"/>
<polygon points="500.3,794.1 509.7,792.5 512.8,800.3 508.1,805 501.9,803.4" fill="#a8ddb5"/>
<polygon points="480,795.6 487.8,794.8 489.4,801.9 480,803.4" fill="#a8ddb5"/>
<polygon points="519.1,789.4 526.9,787.8 533.1,783.1 537.8,789.4 542.5,790.9 540.9,798.8 534.7,803.4 526.9,803.4 522.2,808.1 515.9,803.4 519.1,797.2" fill="#0868ac"/>
<polygon points="548.8,791.7 554.2,792.5 555,800.3 549.5,801.1" fill="#0868ac"/>
<polygon points="486.2,809.7 494.1,807.3 497.2,811.2 489.4,813.6" fill="#0868ac"/>
<polygon points="541.7,791.7 548,791.2 548.8,800.3 542.5,800.6" fill="#7bccc4"/>
<polygon points="543.3,793.3 546.4,793.3 546.4,798.8 543.3,798.8" fill="#a8ddb5"/>
<polygon points="523.8,789.4 529.2,789.4 529.2,794.8 523.8,794.8" fill="#e0f3db"/>
<polygon points="511.2,815.9 517.5,814.4 523.8,811.2 531.6,809.7 534.7,805 539.4,803.4 545.6,805 548.8,809.7 547.2,809.7 537.8,809.7 534.7,812.8 526.9,816.7" fill="#ffed00"/>
<polygon points="503.4,815.2 511.2,814.4 511.2,817.5 503.4,817.5" fill="#ffed00"/>
<polygon points="558.1,789.4 564.4,786.2 567.5,795.6 567.5,801.9 561.2,801.9 558.1,795.6" fill="#ffed00"/>
<polygon points="562,795.9 567.2,795.9 567.2,797.5 562,797.5" fill="#2b8cbe"/>
<polygon points="508.1,775.3 514.4,773.8 522.2,780 526.9,777.7 534.7,780 539.4,786.2 537.8,789.4 533.1,784.7 526.9,783.1 522.2,786.2 511.2,783.1" fill="#ffed00"/>
</g>
<g clip-path="url(#t15)">
<polygon points="440,410 600,410 600,570 440,570" fill="#cccccc"/>
<polygon points="440,410 482.2,410 479.1,422.5 474.4,428.8 469.7,425.6 463.4,431.9 463.4,439.7 455.6,438.1 449.4,431.9 443.1,428.8 440,419.4" fill="#0868ac"/>
<polygon points="440,419.4 443.1,428.8 449.4,431.9 455.6,438.1 446.2,433.4 440,436.6" fill="#0868ac"/>
<polygon points="443.1,410 463.4,410 458.8,419.4 449.4,422.5 444.7,417.8" fill="#2b8cbe"/>
<polygon points="449.4,410 460.3,410 457.2,414.7 452.5,416.2" fill="#7bccc4"/>
<polygon points="440,436.6 446.2,433.4 455.6,438.1 458,445.9 461.9,447.5 460.3,455.3 459.5,466.2 450.9,470.2 443.1,469.4 440,474.1" fill="#ffed00"/>
<polygon points="447.8,456.9 455.6,453.8 459.5,458.4 458.8,466.2 450.9,469.4 447.8,464.7" fill="#ffec80"/>
<polygon points="442.3,445.2 446.2,445.2 446.2,449.1 442.3,449.1" fill="#0868ac"/>
<polygon points="443.1,470.2 450.9,470.2 460.3,467 463.4,463.1 468.1,469.4 472.8,472.5 473.6,491.2 468.1,494.4 458.8,488.1 449.4,481.9 440,481.1 440,474.1" fill="#ffec80"/>
<polygon points="440,481.1 449.4,481.9 458.8,488.1 468.1,494.4 477.5,503.8 479.1,511.6 485.3,520.9 482.2,525.6 475.9,528.8 480.6,530.3 479.1,542.8 469.7,543.6 469.7,535 465,535 461.9,530.3 455.6,528.8 449.4,530.3 440,528.8" fill="#ffed00"/>
<polygon points="449.4,510 455.6,497.5 465,497.5 471.2,502.2 465,506.9 463.4,519.4 455.6,525.6 447.8,522.5" fill="#ffec80"/>
<polygon points="443.9,499.8 449.4,499.1 450.2,505.3 444.7,506.1" fill="#0868ac"/>
<polygon points="445.9,501.1 448.1,501.1 448.1,504.2 445.9,504.2" fill="#ffed00"/>
<polygon points="473.6,485 479.1,485 482.2,491.2 479.1,497.5 483.8,503.8 485.3,510 491.6,516.2 494.7,520.9 485.3,520.9 479.1,511.6 477.5,503.8 473.6,497.5" fill="#2b8cbe"/>
<polygon points="465,506.9 471.2,505.3 477.5,510 482.2,519.4 475.9,522.5 468.1,519.4 465.8,513.1" fill="#2b8cbe"/>
<polygon points="485.3,520.9 494.7,520.9 496.2,533.4 499.4,536.6 466.6,535 475.9,528.8 482.2,525.6" fill="#0868ac"/>
<polygon points="440,528.8 449.4,530.3 455.6,528.8 461.9,530.3 465,535 458.8,542.8 447.8,549.1 440,549.1" fill="#2b8cbe"/>
<polygon points="440,538.1 449.4,536.6 457.2,541.2 447.8,549.1 440,549.1" fill="#7bccc4"/>
<polygon points="444.7,539.7 452.5,538.9 454.1,542.8 446.2,544.4" fill="#e0f3db"/>
<polygon points="440,549.8 447.8,549.1 458.8,542.8 463.4,549.1 468.1,555.3 472.8,566.2 474.4,570 440,570" fill="#7bccc4"/>
<polygon points="452.5,549.1 460.3,545.9 466.6,555.3 463.4,560 455.6,553.8" fill="#cccccc"/>
<polygon points="455.6,558.4 465,561.6 468.1,570 458.8,570" fill="#e0f3db"/>
<polygon points="465,433.4 474.4,430.3 480.6,436.6 486.9,441.2 491.6,444.4 497.8,449.1 502.5,447.5 513.4,450.6 513.4,455.3 504.1,455.3 502.5,460 499.4,456.9 493.1,450.6 486.9,445.9 479.1,445.9 474.4,450.6 479.1,455.3 486.9,463.1 485.3,467.8 479.1,466.2 475.9,472.5 479.1,478.8 486.9,481.9 488.4,491.2 482.2,492.8 473.6,485 472.8,472.5 468.1,469.4 463.4,463.1 460.3,455.3 461.9,447.5 466.6,445.9" fill="#e0f3db"/>
<polygon points="502.5,433.4 511.9,432.7 521.2,436.6 513.4,439.7 504.1,438.1" fill="#e0f3db"/>
<polygon points="482.2,410 510.3,410 508.8,414.7 499.4,417.8 493.1,425.6 486.9,431.9 491.6,438.1 486.9,441.2 480.6,436.6 479.1,428.8 477.5,425.6 479.1,422.5" fill="#2b8cbe"/>
<polygon points="494.7,414.7 502.5,413.1 510.3,416.2 507.2,422.5 502.5,425.6 494.7,427.2 491.6,433.4 499.4,441.2 502.5,447.5 497.8,449.1 491.6,444.4 486.9,441.2 491.6,438.1 486.9,431.9 493.1,425.6" fill="#7bccc4"/>
<polygon points="500.2,415.5 504.1,415.5 504.1,419.4 500.2,419.4" fill="#cccccc"/>
<polygon points="522.8,439.7 546.2,439.7 543.1,448.3 527.5,446.7" fill="#e0f3db"/>
<polygon points="524.4,440.5 533.8,439.7 541.6,441.2 540,445.2 530.6,445.2 525.2,443.6" fill="#7bccc4"/>
<polygon points="527.5,469.4 533,469.4 533,475.6 527.5,475.6" fill="#e0f3db"/>
<polygon points="510.3,475.6 515,473.3 518.1,477.2 513.4,479.5" fill="#e0f3db"/>
<polygon points="493.9,468.6 496.2,468.6 496.2,471.7 493.9,471.7" fill="#e0f3db"/>
<polygon points="519.7,489.7 527.5,488.1 530.6,494.4 524.4,497.5 521.2,503.8 515,500.6 508.8,497.5 502.5,499.1 499.4,503.8 494.7,510 490,513.1 486.9,510 491.6,503.8 497.8,499.1 505.6,495.9 513.4,494.4" fill="#e0f3db"/>
<polygon points="540,503 544.7,503 544.7,506.1 540,506.1" fill="#e0f3db"/>
<polygon points="549.4,520.2 555.6,520.2 555.6,527.2 549.4,527.2" fill="#e0f3db"/>
<polygon points="486.9,517.8 493.1,511.6 496.2,503.8 502.5,499.1 505.6,503.8 505.6,511.6 508.8,519.4 507.2,535 499.4,536.6 496.2,533.4 494.7,520.9" fill="#2b8cbe"/>
<polygon points="496.2,511.6 499.4,510.8 499.4,516.2 496.2,517.8" fill="#ffed00"/>
<polygon points="496.2,522.5 502.5,517.8 505.6,517 504.1,536.6 499.4,536.6 496.2,531.9" fill="#ffed00"/>
<polygon points="524.4,519.4 530.6,522.5 536.9,531.9 541.6,547.5 549.4,551.4 561.9,552.2 569.7,556.1 580.6,547.5 590,544.4 600,542.8 600,516.2 590,516.2 580.6,519.4 572.8,525.6 565,522.5 558.8,525.6 561.9,535 558.8,544.4 549.4,544.4 543.1,535 536.9,525.6 530.6,519.4" fill="#e0f3db"/>
<polygon points="505.6,536.6 518.1,537.3 527.5,541.2 536.9,547.5 543.1,551.4 536.9,535 533.8,525.6 527.5,522.5 522.8,528.8 518.1,533.4 508.8,531.9" fill="#7bccc4"/>
<polygon points="515,519.4 519.7,516.2 522.8,519.4 522,528.8 518.1,533.4 515,530.3" fill="#2b8cbe"/>
<polygon points="514.7,530.3 516.9,530.3 516.9,536.6 514.7,536.6" fill="#ffed00"/>
<polygon points="586.9,422.5 600,419.4 600,461.6 593.1,456.9 583.8,456.9 577.5,453.8 583.8,447.5 588.4,438.1 586.9,430.3" fill="#e0f3db"/>
<polygon points="588.4,431.9 593.1,431.9 593.1,441.2 588.4,442.8" fill="#a8ddb5"/>
<polygon points="583.8,472.5 600,469.4 600,483.4 590,483.4 583.8,478.8" fill="#e0f3db"/>
<polygon points="571.2,503.8 580.6,500.6 586.9,499.1 596.2,503.8 600,510 600,516.2 590,516.2 580.6,519.4 572.8,525.6 569.7,519.4 574.4,513.1" fill="#e0f3db"/>
<polygon points="572.8,506.9 583.8,503.8 590,510 580.6,513.1 574.4,511.6" fill="#a8ddb5"/>
<polygon points="563.4,525.6 569.7,524.1 572.8,531.9 566.6,533.4" fill="#a8ddb5"/>
<polygon points="577.5,519.4 585.3,517.8 586.9,522.5 580.6,524.1" fill="#cccccc"/>
<polygon points="458.8,542.8 466.6,535 499.4,536.6 518.1,537.3 527.5,541.2 533.8,547.5 530.6,558.4 527.5,570 474.4,570 472.8,566.2 468.1,555.3 463.4,549.1" fill="#0868ac"/>
<polygon points="527.5,541.2 536.9,547.5 543.1,551.4 561.9,553.8 571.2,556.9 580.6,547.5 590,542.8 600,541.2 600,570 527.5,570 530.6,558.4 533.8,547.5" fill="#2b8cbe"/>
<polygon points="543.1,551.4 561.9,553.8 571.2,556.9 580.6,549.1 590,544.4 600,542.8 600,553.8 590,555.3 580.6,560 568.1,560 555.6,556.9 546.2,555.3" fill="#7bccc4"/>
<polygon points="577.5,550.6 590,545.9 600,544.4 600,550.6 590,552.2 580.6,555.3" fill="#a8ddb5"/>
<polygon points="549.4,558.4 561.9,560 574.4,563.1 586.9,560 600,558.4 600,570 540,570 543.1,563.1" fill="#0868ac"/>
<polygon points="532.2,553.8 538.4,550.6 541.6,556.9 536.9,561.6 532.2,560" fill="#7bccc4"/>
<polygon points="469.7,535 479.1,535 480.6,539.7 479.1,544.4 473.6,545.2 469.7,541.2" fill="#ffed00"/>
<polygon points="500.2,545.9 507.2,544.4 508,550.6 505.6,555.3 501.7,553.8" fill="#ffed00"/>
<polygon points="520.5,556.1 527.5,554.5 529.1,560 528.3,564.7 525.2,564.7 521.2,560" fill="#ffed00"/>
<polygon points="486.9,539.7 493.1,539.7 493.1,547.5 486.9,547.5" fill="#2b8cbe"/>
<polygon points="508.8,547.5 516.6,547.5 516.6,556.9 508.8,556.9" fill="#2b8cbe"/>
<polygon points="472.8,558.4 480.6,560 479.1,567.8 474.4,566.2" fill="#cccccc"/>
</g>
</g>
<polyline points="557.1,205 562.1,215 564.2,245 574.2,259.1 590.2,263.1 600.2,275.1 619,305.1" fill="none" stroke="#000" stroke-opacity="0.14" stroke-width="0.8"/>
<polyline points="611,298.1 615,301.1 627,313.1 637,329.1 637,343.1 641,357.1 648,377.2 648,386.2 655,394.2 663,395.2 681.1,393.2 693.1,390.2 698.1,384.2 711.1,384.2 719.1,385.2 727.1,383.8 743.1,373.2 755.1,372.8 763.1,370.8 773.2,362.2 783.2,358.1 824,347.1" fill="none" stroke="#000" stroke-opacity="0.14" stroke-width="0.8"/>
<polyline points="356.1,679.1 358.1,689.1 356.1,701.1 361.2,711.1 359.2,717.1 371.2,731.1 381.2,741.1 387.2,755.1 385.2,762.1 397.2,764.1" fill="none" stroke="#000" stroke-opacity="0.14" stroke-width="0.8"/>
<polyline points="369.2,693.1 371.2,703.1 375.2,713.1 371.2,719.1 379.2,727.1 387.2,733.1 386.2,739.1 391.2,749.1 397.2,759.1" fill="none" stroke="#000" stroke-opacity="0.14" stroke-width="0.8"/>
<polyline points="457,619 462.1,623 458,631 454,643 444,649 453,652 447,657 422,655 414,661 410,645" fill="none" stroke="#000" stroke-opacity="0.14" stroke-width="0.8"/>
<polyline points="458,778.2 461,795.2 464.1,815.2" fill="none" stroke="#000" stroke-opacity="0.14" stroke-width="0.8"/>
<polyline points="591.2,793.2 591.2,815.2" fill="none" stroke="#000" stroke-opacity="0.14" stroke-width="0.8"/>
<path d="M207.4,393.2 L211.0,396.2 L217.8,395.2 L218.0,395.3 L222.0,405.2 L223.0,409.7 L222.8,410.0 L222.0,410.0 L224.0,415.0 L229.0,418.0 L230.0,425.0 L235.0,430.0 L241.0,438.0 L245.0,445.0 L245.0,452.0 L241.0,457.0 L242.0,464.1 L255.8,464.1 L255.9,464.4 L255.0,470.1 L263.1,473.1 L269.2,474.2 L276.1,480.1 L276.1,485.1 L285.1,490.1 L293.1,496.1 L299.0,501.0 L299.0,501.3 L298.1,504.1 L303.1,510.1 L309.1,512.1 L317.1,517.1 L320.1,524.1 L325.1,530.1 L330.1,535.1 L335.1,537.1 L342.1,541.1 L348.1,537.1 L353.1,537.1 L359.2,539.1 L365.1,535.2 L365.3,535.1 L370.2,537.1 L374.2,541.1 L381.2,546.1 L387.2,552.1 L393.9,553.1 L394.2,553.2 L394.2,559.1 L391.2,564.2 L393.1,568.2 L390.2,572.2 L395.2,575.2 L402.0,577.2 L402.1,577.5 L400.2,582.1 L387.2,593.2 L381.2,595.2 L376.2,600.2 L374.2,607.2 L371.6,614.8 L371.4,615.0 L369.6,615.0 L368.2,625.0 L367.2,636.9 L359.2,642.0 L357.1,649.0 L358.0,653.7 L358.0,654.0 L352.1,656.0 L353.1,660.0 L357.1,664.0 L359.2,672.1 L360.2,681.1 L363.2,691.1 L362.2,699.1 L365.2,709.1 L367.2,719.1 L371.2,727.1 L379.2,735.1 L391.2,755.1 L397.2,762.1 L405.2,764.1 L409.9,766.8 L410.0,767.0 L410.0,768.1 L420.0,770.2 L430.0,773.2 L440.0,775.2 L446.0,779.2 L452.0,779.2 L456.8,778.2 L457.1,778.3 L462.1,783.2 L468.1,791.2 L470.1,799.2 L474.1,809.2 L477.1,813.2 L484.1,814.2 L490.1,814.2 L498.1,813.2 L504.1,815.2 L510.1,816.2 L518.1,814.2 L526.1,815.2 L534.1,813.2 L538.1,810.2 L546.1,811.2 L554.1,810.2 L570.2,804.2 L586.2,796.2 L590.2,793.2 L588.2,790.2 L579.3,787.2 L579.2,787.1 L576.2,779.2 L572.2,769.2 L569.2,759.1 L570.2,751.1 L568.2,743.1 L571.2,735.1 L568.2,729.1 L560.1,725.1 L557.1,719.1 L558.1,713.1 L562.1,703.1 L564.2,695.1 L570.2,691.1 L576.2,683.1 L582.2,673.1 L586.2,663.0 L598.2,655.0 L602.2,651.0 L615.0,642.6 L615.1,640.9 L621.0,634.0 L627.0,628.0 L635.0,621.0 L638.6,615.1 L641.7,615.0 L645.0,610.2 L653.0,603.2 L661.0,597.2 L681.1,585.2 L691.1,580.2 L701.1,574.2 L721.1,558.1 L755.1,524.1 L763.1,514.1 L775.2,494.1 L781.2,486.1 L785.2,478.1 L791.2,470.1 L799.2,460.0 L805.2,450.0 L807.2,440.0 L810.2,436.0 L816.2,434.0 L811.4,432.1 L811.2,431.8 L812.2,422.0 L812.2,416.0 L813.4,410.2 L813.5,410.0 L813.2,409.2 L804.2,408.2 L802.9,410.0 L797.3,410.0 L795.1,413.0 L785.2,415.0 L775.2,418.0 L751.1,420.0 L739.1,423.0 L731.1,422.0 L721.1,427.0 L711.2,430.0 L701.1,428.0 L689.1,432.0 L679.1,435.6 L669.1,435.0 L661.0,430.0 L655.0,424.0 L653.0,418.0 L648.0,417.0 L645.0,418.0 L633.5,416.1 L633.3,415.8 L633.4,415.6 L635.0,414.0 L645.0,413.0 L647.0,410.1 L649.9,410.0 L652.0,407.2 L651.0,402.2 L646.0,396.2 L645.0,393.2 L639.0,389.2 L633.0,386.2 L629.0,381.2 L623.0,375.2 L615.1,371.3 L615.0,371.0 L604.2,362.2 L594.2,358.1 L584.2,353.1 L580.2,347.1 L576.5,351.7 L576.3,351.8 L576.1,351.6 L574.2,345.1 L568.2,337.1 L565.2,329.1 L562.1,319.1 L558.1,309.1 L552.1,301.1 L544.1,295.1 L538.1,290.1 L530.1,286.0 L528.1,281.1 L525.1,271.1 L525.1,263.1 L524.1,253.0 L525.1,245.0 L522.1,242.0 L519.1,235.0 L517.1,226.0 L504.1,219.0 L496.1,214.0 L491.1,206.6 L482.1,212.6 L477.1,213.0 L474.0,220.0 L460.0,224.0 L458.0,231.4 L457.9,231.6 L449.1,233.0 L440.0,227.6 L404.5,227.6 L404.3,227.5 L404.3,227.3 L404.8,224.2 L402.8,224.6 L401.7,227.4 L401.4,227.6 L272.1,227.6 L272.1,264.1 L271.8,264.3 L251.4,264.3 L251.4,341.5 L251.1,341.7 L241.0,341.7 L233.0,342.7 L229.4,345.1 L230.6,349.3 L230.5,349.6 L226.0,354.7 L225.0,359.2 L219.0,362.2 L220.0,368.2 L214.0,373.2 L213.0,378.2 L215.9,383.0 L215.9,383.3 L210.0,388.2Z" fill="none" stroke="#000" stroke-width="1.0" stroke-linejoin="round"/>
<g clip-path="url(#t1)">
<polyline points="552.1,301.1 548.1,307.1 540.1,309.1 532.1,313.1 527.1,317.1 520.1,318.1 519.1,325.1 517.1,329.1 514.1,341.1 509.1,353.1 510.1,366.2 508.1,375.2 505.1,385.2 502.1,394.2 492.1,396.2 487.1,403.2 482.1,414" fill="none" stroke="#000" stroke-width="1.1" stroke-linejoin="round"/>
<polyline points="510.1,366.2 518.1,366.2 523.1,364.2 526.1,365.2 530.1,368.2 538.1,357.1 542.1,360.2 550.1,364.2 562.1,361.2 565.2,363.2 580.2,363.2 584.2,363.2 596.2,371.2 619,385.2" fill="none" stroke="#000" stroke-width="1.1" stroke-linejoin="round"/>
<polyline points="420,414 421,408.2 431,408.2 432,403.2 442,403.2 442,414" fill="none" stroke="#000" stroke-width="1.1" stroke-linejoin="round"/>
</g>
<polygon points="579.8,333.1 584.2,330.1 587.4,335.1 585.4,342.7 581.4,340.3" fill="#000" stroke="#000" stroke-width="0.9"/>
<polygon points="571.4,330.1 573.8,328.7 574.6,332.3 571.8,333.1" fill="#000" stroke="#000" stroke-width="0.9"/>
<polygon points="588.8,341.9 595.2,340.3 596.8,344.3 590.2,345.1" fill="#000" stroke="#000" stroke-width="0.9"/>
<polygon points="583,325.7 585.4,325.1 585.4,327.5 583.4,327.5" fill="#000" stroke="#000" stroke-width="0.9"/>
<polygon points="568.2,325.1 570.2,325.1 570.2,327.5 568.2,327.5" fill="#000" stroke="#000" stroke-width="0.9"/>
<polygon points="576.2,337.1 579.2,337.1 579.2,340.1 576.2,340.1" fill="#000" stroke="#000" stroke-width="0.9"/>
<polygon points="591.2,336.1 594.2,336.1 594.2,338.7 591.2,338.7" fill="#000" stroke="#000" stroke-width="0.9"/>
<polygon points="522.1,242 526.1,244 526.1,250.6 523.7,248" fill="#000" stroke="#000" stroke-width="0.9"/>
<polygon points="585.2,349.1 590.2,351.1 596.2,355.1 594.2,356.1 588.2,354.1" fill="#000" stroke="#000" stroke-width="0.9"/>
<polygon points="535.1,279.1 535.9,279.1 535.9,279.9 535.1,279.9" fill="#000" stroke="#000" stroke-width="0.9"/>
<polygon points="540.1,282.1 540.9,282.1 540.9,282.9 540.1,282.9" fill="#000" stroke="#000" stroke-width="0.9"/>
<polygon points="543.1,285.1 543.9,285.1 543.9,285.9 543.1,285.9" fill="#000" stroke="#000" stroke-width="0.9"/>
<polygon points="548.1,287.1 548.9,287.1 548.9,287.9 548.1,287.9" fill="#000" stroke="#000" stroke-width="0.9"/>
<polygon points="550.1,284.1 550.9,284.1 550.9,284.9 550.1,284.9" fill="#000" stroke="#000" stroke-width="0.9"/>
<polygon points="554.1,291.1 554.9,291.1 554.9,291.9 554.1,291.9" fill="#000" stroke="#000" stroke-width="0.9"/>
<polygon points="557.1,290.1 557.9,290.1 557.9,290.9 557.1,290.9" fill="#000" stroke="#000" stroke-width="0.9"/>
<polygon points="544.1,280.1 544.9,280.1 544.9,280.9 544.1,280.9" fill="#000" stroke="#000" stroke-width="0.9"/>
<polygon points="539.1,286.1 539.9,286.1 539.9,286.9 539.1,286.9" fill="#000" stroke="#000" stroke-width="0.9"/>
<polygon points="552.1,288.1 552.9,288.1 552.9,288.9 552.1,288.9" fill="#000" stroke="#000" stroke-width="0.9"/>
<polygon points="555.1,293.1 555.9,293.1 555.9,293.9 555.1,293.9" fill="#000" stroke="#000" stroke-width="0.9"/>
<polygon points="538.1,278.1 538.9,278.1 538.9,278.9 538.1,278.9" fill="#000" stroke="#000" stroke-width="0.9"/>
<polygon points="547.1,291.1 547.9,291.1 547.9,291.9 547.1,291.9" fill="#000" stroke="#000" stroke-width="0.9"/>
<g clip-path="url(#t2)">
<polyline points="611,381.2 621,390.2 630,398.2 639,394.2 645,393.2" fill="none" stroke="#000" stroke-width="1.1" stroke-linejoin="round"/>
<polyline points="630,398.2 622,414" fill="none" stroke="#000" stroke-width="1.1" stroke-linejoin="round"/>
</g>
<g clip-path="url(#t3)">
<polyline points="256,464.1 263.1,461 265.1,453 269.1,445 274.1,437 283.1,435.6 290.1,435 293.1,440 298.1,446 305.1,450 309.1,450.6 319.1,449 329.1,449 335.1,453 349.1,453 353.1,450 365.2,446 365.2,442 375.2,437.6 383.2,441 393.2,447 403.2,447 414,438" fill="none" stroke="#000" stroke-width="1.1" stroke-linejoin="round"/>
<polyline points="394.2,552.5 397.2,550.1 414,550.1" fill="none" stroke="#000" stroke-width="1.1" stroke-linejoin="round"/>
</g>
<g clip-path="url(#t4)">
<polyline points="406,443 418,432 425,424 425,416 422,406" fill="none" stroke="#000" stroke-width="1.1" stroke-linejoin="round"/>
<polyline points="442,406 440,418 443,429 450,433 458,439.6" fill="none" stroke="#000" stroke-width="1.1" stroke-linejoin="round"/>
<polyline points="458,439.6 463.1,442 465.1,432 472.1,427 476.1,429 479.1,422 481.1,414 482.1,406" fill="none" stroke="#000" stroke-width="1.1" stroke-linejoin="round"/>
<polyline points="458,439.6 460,446 457,450 460,453 461,464.1 458,468.1 444,470.1 438,477.1 440,481.1 450,485.1 458,490.1 468.1,497.1 475.1,502.1 478.1,508.1 480.1,514.1 485.1,520.1 489.1,521.1 495.1,521.7 496.1,534.1 499.1,536.5" fill="none" stroke="#000" stroke-width="1.1" stroke-linejoin="round"/>
<polyline points="485.1,520.1 470.1,532.1 459,542.1" fill="none" stroke="#000" stroke-width="1.1" stroke-linejoin="round"/>
<polyline points="468.1,535.1 496.1,535.1 499.1,536.5" fill="none" stroke="#000" stroke-width="1.1" stroke-linejoin="round"/>
<polyline points="499.1,536.5 518.1,538.1 530.1,544.1 542.1,551.1 558.1,553.1 570.2,557.1 576.2,552.1 584.2,546.1 597.2,541.7 605.2,546.1 619,547.1" fill="none" stroke="#000" stroke-width="1.1" stroke-linejoin="round"/>
<polyline points="619,549.1 602.2,566.2 601.8,619" fill="none" stroke="#000" stroke-width="1.1" stroke-linejoin="round"/>
<polyline points="406,550.1 410,550.1 416,551.1 419,553.7 424,550.1 436,547.7 448,549.1 459,542.1" fill="none" stroke="#000" stroke-width="1.1" stroke-linejoin="round"/>
<polyline points="459,542.1 461,548.1 466.1,552.1 467.1,558.1 472.1,566.2 477.1,574.2 478.1,584.2 474.1,591.2 467.1,596.2 462.1,602.2 458,610.2 456,619" fill="none" stroke="#000" stroke-width="1.1" stroke-linejoin="round"/>
</g>
<g clip-path="url(#t5)">
<polyline points="618,406 618,420 621,425 635,425 640,423 648,417" fill="none" stroke="#000" stroke-width="1.1" stroke-linejoin="round"/>
<polyline points="637,430 640,423" fill="none" stroke="#000" stroke-width="1.1" stroke-linejoin="round"/>
<polyline points="637,430 641,438 648,446 651,451 663,459 681.1,465.1 701.1,470.1 721.1,475.1 746.1,477.7 684.1,530.1 673.1,529.7 659,530.1 645,536.1 639,541.1 625,543.1 619,548.1 611,554.1" fill="none" stroke="#000" stroke-width="1.1" stroke-linejoin="round"/>
<polyline points="611,547.1 619,548.1" fill="none" stroke="#000" stroke-width="1.1" stroke-linejoin="round"/>
</g>
<g clip-path="url(#t6)">
<polyline points="367.2,637 373.2,639 377.2,636 383.2,633 385.2,631.4 414,631" fill="none" stroke="#000" stroke-width="1.1" stroke-linejoin="round"/>
<polyline points="383.2,633 389.2,639 392.2,645 393.2,654" fill="none" stroke="#000" stroke-width="1.1" stroke-linejoin="round"/>
<polyline points="353.1,660 361.2,663 373.2,662 375.2,656 383.2,655 387.2,654 393.2,654 384.2,659 386.2,664 392.2,666 392.2,670.1 385.2,675.1 379.2,683.1 375.2,688.1 369.2,691.1 363.2,691.1" fill="none" stroke="#000" stroke-width="1.1" stroke-linejoin="round"/>
</g>
<g clip-path="url(#t7)">
<polyline points="406,631 457,631 532.1,668.1 535.1,675.1 564.2,694.1" fill="none" stroke="#000" stroke-width="1.1" stroke-linejoin="round"/>
<polyline points="457,611 457,631" fill="none" stroke="#000" stroke-width="1.1" stroke-linejoin="round"/>
<polyline points="602.2,611 602.2,629 613.2,641 619,644" fill="none" stroke="#000" stroke-width="1.1" stroke-linejoin="round"/>
</g>
<polygon points="574.2,699.1 578.2,698.1 579.2,703.1 577.2,708.1 573.2,707.1 572.6,703.1" fill="#ffffff" stroke="#000" stroke-width="0.9"/>
<polygon points="565.2,714.1 568.2,713.1 571.2,719.1 572.2,724.1 568.2,725.1 565.2,721.1 564.2,717.1" fill="#ffffff" stroke="#000" stroke-width="0.9"/>
<polygon points="574.2,751.1 579.2,746.1 579.8,749.1 577.2,753.1" fill="#ffffff" stroke="#000" stroke-width="0.9"/>
<polyline points="491.1,206.6 496.1,214 504.1,219 517.1,226 519.1,235 522.1,242 525.1,245 524.1,253 525.1,263.1 525.1,271.1 528.1,281.1 530.1,286.1 538.1,290.1 544.1,295.1 552.1,301.1 558.1,309.1 562.1,319.1 565.2,329.1 568.2,337.1 574.2,345.1 576.2,352.1 580.2,347.1 584.2,353.1 594.2,358.1 604.2,362.2 615,371.2" fill="none" stroke="#000" stroke-width="1.4" stroke-linejoin="round"/>
<polyline points="615,371.2 623,375.2 629,381.2 633,386.2 639,389.2 645,393.2 646,396.2 651,402.2 652,407.2 647.4,410" fill="none" stroke="#000" stroke-width="1.4" stroke-linejoin="round"/>
<polyline points="647,410 645,413 635,414 633,416 639,417 645,418 648,417 653,418 655,424 661,430 669.1,435 679.1,435.6 689.1,432 701.1,428 711.1,430 721.1,427 731.1,422 739.1,423 751.1,420 763.1,419 775.2,418 785.2,415 795.2,413 800.2,410" fill="none" stroke="#000" stroke-width="1.4" stroke-linejoin="round"/>
<polyline points="800.2,410 804.2,408.2 813.2,409.2 814.2,410" fill="none" stroke="#000" stroke-width="1.4" stroke-linejoin="round"/>
<polyline points="814.2,410 812.2,416 812.2,422 811.2,432 816.2,434 810.2,436 807.2,440 805.2,450 799.2,460 791.2,470.1 785.2,478.1 781.2,486.1 775.2,494.1 769.2,504.1 763.1,514.1 755.1,524.1 747.1,532.1 739.1,540.1 731.1,548.1 721.1,558.1 711.1,566.2 701.1,574.2 691.1,580.2 681.1,585.2 671.1,591.2 661,597.2 653,603.2 645,610.2 641,615" fill="none" stroke="#000" stroke-width="1.4" stroke-linejoin="round"/>
<polyline points="641,615 635,621 627,628 621,634 615,641" fill="none" stroke="#000" stroke-width="1.4" stroke-linejoin="round"/>
<polyline points="615,642.6 608.2,647 602.2,651 598.2,655 586.2,663 582.2,673.1 576.2,683.1 570.2,691.1 564.2,695.1 562.1,703.1 558.1,713.1 557.1,719.1 560.1,725.1 568.2,729.1 571.2,735.1 568.2,743.1 570.2,751.1 569.2,759.1 572.2,769.2 576.2,779.2 579.2,787.2 588.2,790.2 590.2,793.2" fill="none" stroke="#000" stroke-width="1.4" stroke-linejoin="round"/>
</g>
<rect x="205.3" y="204.9" width="613.5" height="613.9" fill="none" stroke="#000" stroke-width="1.3"/>
<line x1="271.9" y1="818.8" x2="271.9" y2="833.6" stroke="#000" stroke-width="1.3"/>
<text x="272.2" y="862.8" font-size="20" letter-spacing="0.3" text-anchor="middle">25°E</text>
<line x1="375.1" y1="818.8" x2="375.1" y2="833.6" stroke="#000" stroke-width="1.3"/>
<text x="375.40000000000003" y="862.8" font-size="20" letter-spacing="0.3" text-anchor="middle">30°E</text>
<line x1="478.4" y1="818.8" x2="478.4" y2="833.6" stroke="#000" stroke-width="1.3"/>
<text x="478.7" y="862.8" font-size="20" letter-spacing="0.3" text-anchor="middle">35°E</text>
<line x1="581.6" y1="818.8" x2="581.6" y2="833.6" stroke="#000" stroke-width="1.3"/>
<text x="581.9" y="862.8" font-size="20" letter-spacing="0.3" text-anchor="middle">40°E</text>
<line x1="684.9" y1="818.8" x2="684.9" y2="833.6" stroke="#000" stroke-width="1.3"/>
<text x="685.1999999999999" y="862.8" font-size="20" letter-spacing="0.3" text-anchor="middle">45°E</text>
<line x1="788.1" y1="818.8" x2="788.1" y2="833.6" stroke="#000" stroke-width="1.3"/>
<text x="788.4" y="862.8" font-size="20" letter-spacing="0.3" text-anchor="middle">50°E</text>
<line x1="190.2" y1="264.3" x2="205.3" y2="264.3" stroke="#000" stroke-width="1.3"/>
<text x="179.6" y="271.5" font-size="20" letter-spacing="0.7" text-anchor="end">20°N</text>
<line x1="190.2" y1="354.3" x2="205.3" y2="354.3" stroke="#000" stroke-width="1.3"/>
<text x="179.6" y="361.5" font-size="20" letter-spacing="0.7" text-anchor="end">15°N</text>
<line x1="190.2" y1="442.2" x2="205.3" y2="442.2" stroke="#000" stroke-width="1.3"/>
<text x="179.6" y="449.4" font-size="20" letter-spacing="0.7" text-anchor="end">10°N</text>
<line x1="190.2" y1="528.7" x2="205.3" y2="528.7" stroke="#000" stroke-width="1.3"/>
<text x="179.6" y="535.9000000000001" font-size="20" letter-spacing="0.7" text-anchor="end">5°N</text>
<line x1="190.2" y1="614.5" x2="205.3" y2="614.5" stroke="#000" stroke-width="1.3"/>
<text x="179.6" y="621.7" font-size="20" letter-spacing="0.7" text-anchor="end">0°</text>
<line x1="190.2" y1="700.3" x2="205.3" y2="700.3" stroke="#000" stroke-width="1.3"/>
<text x="179.6" y="707.5" font-size="20" letter-spacing="0.7" text-anchor="end">5°S</text>
<line x1="190.2" y1="786.8" x2="205.3" y2="786.8" stroke="#000" stroke-width="1.3"/>
<text x="179.6" y="794.0" font-size="20" letter-spacing="0.7" text-anchor="end">10°S</text>
<text x="512" y="164" font-size="28.2" font-weight="bold" text-anchor="middle">Heat Stress Index : 2024-01-03</text>
<rect x="829" y="250.00" width="35" height="12.00" fill="#7f0000" shape-rendering="crispEdges"/><rect x="829" y="261.40" width="35" height="12.00" fill="#8b0000" shape-rendering="crispEdges"/><rect x="829" y="272.80" width="35" height="12.00" fill="#980000" shape-rendering="crispEdges"/><rect x="829" y="284.20" width="35" height="12.00" fill="#a50000" shape-rendering="crispEdges"/><rect x="829" y="295.60" width="35" height="12.00" fill="#b20000" shape-rendering="crispEdges"/><rect x="829" y="307.00" width="35" height="12.00" fill="#bf0000" shape-rendering="crispEdges"/><rect x="829" y="318.40" width="35" height="12.00" fill="#cc0000" shape-rendering="crispEdges"/><rect x="829" y="329.80" width="35" height="12.00" fill="#d90000" shape-rendering="crispEdges"/><rect x="829" y="341.20" width="35" height="12.00" fill="#e60000" shape-rendering="crispEdges"/><rect x="829" y="352.60" width="35" height="12.00" fill="#f30000" shape-rendering="crispEdges"/><rect x="829" y="364.00" width="35" height="12.00" fill="#ff0000" shape-rendering="crispEdges"/><rect x="829" y="375.40" width="35" height="12.00" fill="#ff1a00" shape-rendering="crispEdges"/><rect x="829" y="386.80" width="35" height="12.00" fill="#ff3300" shape-rendering="crispEdges"/><rect x="829" y="398.20" width="35" height="11.40" fill="#ff4d00" shape-rendering="crispEdges"/>
<rect x="829" y="445.30" width="35" height="16.46" fill="#5b3209" shape-rendering="crispEdges"/><rect x="829" y="461.16" width="35" height="16.46" fill="#a66c21" shape-rendering="crispEdges"/><rect x="829" y="477.02" width="35" height="16.46" fill="#d97b3f" shape-rendering="crispEdges"/><rect x="829" y="492.88" width="35" height="16.46" fill="#e48a3c" shape-rendering="crispEdges"/><rect x="829" y="508.74" width="35" height="16.46" fill="#eba750" shape-rendering="crispEdges"/><rect x="829" y="524.60" width="35" height="16.46" fill="#f4d080" shape-rendering="crispEdges"/><rect x="829" y="540.46" width="35" height="16.46" fill="#ffec80" shape-rendering="crispEdges"/><rect x="829" y="556.32" width="35" height="16.46" fill="#ffed00" shape-rendering="crispEdges"/><rect x="829" y="572.18" width="35" height="16.46" fill="#dde820" shape-rendering="crispEdges"/><rect x="829" y="588.04" width="35" height="15.86" fill="#a8cf63" shape-rendering="crispEdges"/>
<rect x="829" y="639.20" width="35" height="23.37" fill="#2b8cbe" shape-rendering="crispEdges"/><rect x="829" y="661.97" width="35" height="23.37" fill="#4eb3d3" shape-rendering="crispEdges"/><rect x="829" y="684.74" width="35" height="23.37" fill="#7bccc4" shape-rendering="crispEdges"/><rect x="829" y="707.51" width="35" height="23.37" fill="#a8ddb5" shape-rendering="crispEdges"/><rect x="829" y="730.29" width="35" height="23.37" fill="#ccebc5" shape-rendering="crispEdges"/><rect x="829" y="753.06" width="35" height="23.37" fill="#e0f3db" shape-rendering="crispEdges"/><rect x="829" y="775.83" width="35" height="22.77" fill="#f7fcf0" shape-rendering="crispEdges"/>
<text x="871.6" y="280.7" font-size="21.4" letter-spacing="0.3">53</text>
<text x="871.6" y="314.7" font-size="21.4" letter-spacing="0.3">50</text>
<text x="871.6" y="348.7" font-size="21.4" letter-spacing="0.3">47</text>
<text x="871.6" y="383.7" font-size="21.4" letter-spacing="0.3">44</text>
<text x="871.6" y="484.7" font-size="21.4" letter-spacing="0.3">40</text>
<text x="871.6" y="516.4" font-size="21.4" letter-spacing="0.3">38</text>
<text x="871.6" y="547.7" font-size="21.4" letter-spacing="0.3">36</text>
<text x="871.6" y="579.7" font-size="21.4" letter-spacing="0.3">34</text>
<text x="871.6" y="670.0" font-size="21.4" letter-spacing="0.3">32</text>
<text x="871.6" y="715.3000000000001" font-size="21.4" letter-spacing="0.3">30</text>
<text x="871.6" y="760.7" font-size="21.4" letter-spacing="0.3">28</text>
<text transform="translate(916.2,317) rotate(-90)" font-size="17.4" font-weight="bold" text-anchor="middle">Danger</text>
<text transform="translate(916.2,512) rotate(-90)" font-size="17.4" font-weight="bold" text-anchor="middle">Extreme Caution</text>
<text transform="translate(916.2,707.8) rotate(-90)" font-size="17.4" font-weight="bold" text-anchor="middle">Caution</text>
<text x="862" y="229.7" font-size="2" fill="#666" text-anchor="middle">gsmap/hsi/2024-01-03_hsi_raster</text>
<text x="862" y="424.3" font-size="2" fill="#666" text-anchor="middle">gsmap/hsi/2024-01-03_hsi_raster</text>
<text x="862" y="619.3000000000001" font-size="2" fill="#666" text-anchor="middle">gsmap/hsi/2024-01-03_hsi_raster</text>
<rect x="609" y="797" width="50" height="16" fill="#cccccc"/>
<text x="674" y="812.3" font-size="21.4">No heat stress</text>
<text x="207.3" y="882.8" font-size="17.5" font-weight="bold" xml:space="preserve">KEY</text>
<text x="207.3" y="909" font-size="17.5" font-weight="bold" xml:space="preserve">Caution                : Heat fatigue with prolonged exposure</text>
<text x="207.3" y="934.5" font-size="17.5" font-weight="bold" xml:space="preserve">Extreme Caution  : Heat exhaustion</text>
<text x="207.3" y="960" font-size="17.5" font-weight="bold" xml:space="preserve">Danger                 : Heat exhaustion/ heat stroke probable</text>
</svg>
</body></html>
